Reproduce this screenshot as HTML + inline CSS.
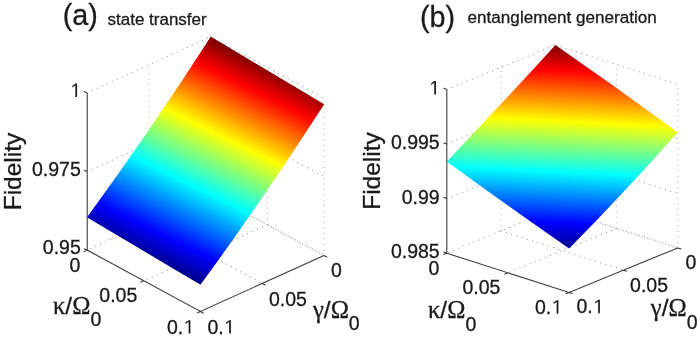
<!DOCTYPE html>
<html><head><meta charset="utf-8"><title>Fidelity plots</title>
<style>
html,body{margin:0;padding:0;background:#fff;}
body{width:697px;height:338px;overflow:hidden;}
svg{display:block;font-family:"Liberation Sans",sans-serif;fill:#1a1a1a;}
</style></head><body>
<svg width="697" height="338" viewBox="0 0 697 338">
<rect width="697" height="338" fill="#fff"/>
<linearGradient id="ga" gradientUnits="userSpaceOnUse" x1="200.40" y1="284.60" x2="300.65" y2="81.05"><stop offset="0" stop-color="rgb(0,0,143)"/><stop offset="0.125" stop-color="rgb(0,0,255)"/><stop offset="0.375" stop-color="rgb(0,255,255)"/><stop offset="0.625" stop-color="rgb(255,255,0)"/><stop offset="0.875" stop-color="rgb(255,0,0)"/><stop offset="1" stop-color="rgb(128,0,0)"/></linearGradient>
<path d="M210.80,194.00 L87.20,250.10 M267.40,224.70 L143.80,280.80 M210.80,194.00 L324.00,255.40 M149.00,222.05 L262.20,283.45 M87.20,171.50 L210.80,115.40 M210.80,115.40 L324.00,176.80 M87.20,92.90 L210.80,36.80 M210.80,36.80 L324.00,98.20" stroke="#969696" stroke-width="1.2" stroke-linecap="round" stroke-dasharray="0.01 5.49" fill="none"/>
<path d="M210.80,194.00 L210.80,36.80 M149.00,222.05 L149.00,64.85 M267.40,224.70 L267.40,67.50 M324.00,255.40 L324.00,98.20" stroke="#b4b4b4" stroke-width="1.2" stroke-linecap="round" stroke-dasharray="0.01 5.49" fill="none"/>
<path d="M210.80,194.00 L324.00,255.40" stroke="#969696" stroke-width="1.2" stroke-linecap="round" stroke-dasharray="0.01 5.49" stroke-dashoffset="2.6" fill="none"/>
<path d="M210.80,36.80 Q267.40,70.50 324.00,104.20 Q262.20,200.15 200.40,284.60 Q143.80,250.90 87.20,217.20 Q149.00,132.75 210.80,36.80Z" fill="url(#ga)"/>
<clipPath id="ca"><path d="M210.80,36.80 Q267.40,70.50 324.00,104.20 Q262.20,200.15 200.40,284.60 Q143.80,250.90 87.20,217.20 Q149.00,132.75 210.80,36.80Z"/></clipPath><g clip-path="url(#ca)"><g transform="matrix(113.20 67.40 -1.236 1.918 210.80 36.80)"><path fill="#800000" d="M0 0h.094v1.25h-.094z"/><path fill="#830000" d="M.09 0h.084v1.25h-.084z"/><path fill="#870000" d="M.17 0h.094v1.25h-.094z"/><path fill="#8b0000" d="M.26 0h.084v1.25h-.084z"/><path fill="#8f0000" d="M.34 0h.094v1.25h-.094z"/><path fill="#930000" d="M.43 0h.084v1.25h-.084z"/><path fill="#970000" d="M.51 0h.094v1.25h-.094z"/><path fill="#9b0000" d="M.6 0h.084v1.25h-.084z"/><path fill="#9f0000" d="M.68 0h.094v1.25h-.094z"/><path fill="#a30000" d="M.77 0h.084v1.25h-.084z"/><path fill="#a70000" d="M.85 0h.094v1.25h-.094z"/><path fill="#ab0000" d="M.94 0h.064v1.25h-.064z"/></g><g transform="matrix(113.20 67.40 -1.236 1.916 209.56 38.72)"><path fill="#870000" d="M0 0h.034v1.25h-.034z"/><path fill="#8b0000" d="M.03 0h.094v1.25h-.094z"/><path fill="#8f0000" d="M.12 0h.084v1.25h-.084z"/><path fill="#930000" d="M.2 0h.094v1.25h-.094z"/><path fill="#970000" d="M.29 0h.084v1.25h-.084z"/><path fill="#9b0000" d="M.37 0h.094v1.25h-.094z"/><path fill="#9f0000" d="M.46 0h.084v1.25h-.084z"/><path fill="#a30000" d="M.54 0h.094v1.25h-.094z"/><path fill="#a70000" d="M.63 0h.084v1.25h-.084z"/><path fill="#ab0000" d="M.71 0h.094v1.25h-.094z"/><path fill="#af0000" d="M.8 0h.084v1.25h-.084z"/><path fill="#b30000" d="M.88 0h.094v1.25h-.094z"/><path fill="#b70000" d="M.97 0h.034v1.25h-.034z"/></g><g transform="matrix(113.20 67.40 -1.236 1.913 208.33 40.63)"><path fill="#930000" d="M0 0h.064v1.25h-.064z"/><path fill="#970000" d="M.06 0h.094v1.25h-.094z"/><path fill="#9b0000" d="M.15 0h.084v1.25h-.084z"/><path fill="#9f0000" d="M.23 0h.094v1.25h-.094z"/><path fill="#a30000" d="M.32 0h.084v1.25h-.084z"/><path fill="#a70000" d="M.4 0h.094v1.25h-.094z"/><path fill="#ab0000" d="M.49 0h.084v1.25h-.084z"/><path fill="#af0000" d="M.57 0h.094v1.25h-.094z"/><path fill="#b30000" d="M.66 0h.084v1.25h-.084z"/><path fill="#b70000" d="M.74 0h.094v1.25h-.094z"/><path fill="#b00" d="M.83 0h.084v1.25h-.084z"/><path fill="#bf0000" d="M.91 0h.094v1.25h-.094z"/></g><g transform="matrix(113.20 67.40 -1.236 1.911 207.09 42.55)"><path fill="#9b0000" d="M0 0h.014v1.25h-.014z"/><path fill="#9f0000" d="M.01 0h.084v1.25h-.084z"/><path fill="#a30000" d="M.09 0h.094v1.25h-.094z"/><path fill="#a70000" d="M.18 0h.084v1.25h-.084z"/><path fill="#ab0000" d="M.26 0h.094v1.25h-.094z"/><path fill="#af0000" d="M.35 0h.084v1.25h-.084z"/><path fill="#b30000" d="M.43 0h.094v1.25h-.094z"/><path fill="#b70000" d="M.52 0h.084v1.25h-.084z"/><path fill="#b00" d="M.6 0h.094v1.25h-.094z"/><path fill="#bf0000" d="M.69 0h.084v1.25h-.084z"/><path fill="#c30000" d="M.77 0h.084v1.25h-.084z"/><path fill="#c70000" d="M.85 0h.094v1.25h-.094z"/><path fill="#cb0000" d="M.94 0h.064v1.25h-.064z"/></g><g transform="matrix(113.20 67.40 -1.236 1.909 205.86 44.46)"><path fill="#a70000" d="M0 0h.044v1.25h-.044z"/><path fill="#ab0000" d="M.04 0h.084v1.25h-.084z"/><path fill="#af0000" d="M.12 0h.094v1.25h-.094z"/><path fill="#b30000" d="M.21 0h.084v1.25h-.084z"/><path fill="#b70000" d="M.29 0h.094v1.25h-.094z"/><path fill="#b00" d="M.38 0h.084v1.25h-.084z"/><path fill="#bf0000" d="M.46 0h.084v1.25h-.084z"/><path fill="#c30000" d="M.54 0h.094v1.25h-.094z"/><path fill="#c70000" d="M.63 0h.084v1.25h-.084z"/><path fill="#cb0000" d="M.71 0h.094v1.25h-.094z"/><path fill="#cf0000" d="M.8 0h.084v1.25h-.084z"/><path fill="#d30000" d="M.88 0h.094v1.25h-.094z"/><path fill="#d70000" d="M.97 0h.034v1.25h-.034z"/></g><g transform="matrix(113.20 67.40 -1.236 1.906 204.62 46.37)"><path fill="#b30000" d="M0 0h.074v1.25h-.074z"/><path fill="#b70000" d="M.07 0h.084v1.25h-.084z"/><path fill="#b00" d="M.15 0h.094v1.25h-.094z"/><path fill="#bf0000" d="M.24 0h.084v1.25h-.084z"/><path fill="#c30000" d="M.32 0h.094v1.25h-.094z"/><path fill="#c70000" d="M.41 0h.084v1.25h-.084z"/><path fill="#cb0000" d="M.49 0h.084v1.25h-.084z"/><path fill="#cf0000" d="M.57 0h.094v1.25h-.094z"/><path fill="#d30000" d="M.66 0h.084v1.25h-.084z"/><path fill="#d70000" d="M.74 0h.094v1.25h-.094z"/><path fill="#db0000" d="M.83 0h.084v1.25h-.084z"/><path fill="#df0000" d="M.91 0h.094v1.25h-.094z"/></g><g transform="matrix(113.20 67.40 -1.236 1.904 203.38 48.27)"><path fill="#b00" d="M0 0h.014v1.25h-.014z"/><path fill="#bf0000" d="M.01 0h.094v1.25h-.094z"/><path fill="#c30000" d="M.1 0h.084v1.25h-.084z"/><path fill="#c70000" d="M.18 0h.094v1.25h-.094z"/><path fill="#cb0000" d="M.27 0h.084v1.25h-.084z"/><path fill="#cf0000" d="M.35 0h.094v1.25h-.094z"/><path fill="#d30000" d="M.44 0h.084v1.25h-.084z"/><path fill="#d70000" d="M.52 0h.094v1.25h-.094z"/><path fill="#db0000" d="M.61 0h.084v1.25h-.084z"/><path fill="#df0000" d="M.69 0h.084v1.25h-.084z"/><path fill="#e30000" d="M.77 0h.094v1.25h-.094z"/><path fill="#e70000" d="M.86 0h.084v1.25h-.084z"/><path fill="#eb0000" d="M.94 0h.064v1.25h-.064z"/></g><g transform="matrix(113.20 67.40 -1.236 1.902 202.15 50.18)"><path fill="#c70000" d="M0 0h.044v1.25h-.044z"/><path fill="#cb0000" d="M.04 0h.094v1.25h-.094z"/><path fill="#cf0000" d="M.13 0h.084v1.25h-.084z"/><path fill="#d30000" d="M.21 0h.094v1.25h-.094z"/><path fill="#d70000" d="M.3 0h.084v1.25h-.084z"/><path fill="#db0000" d="M.38 0h.094v1.25h-.094z"/><path fill="#df0000" d="M.47 0h.084v1.25h-.084z"/><path fill="#e30000" d="M.55 0h.094v1.25h-.094z"/><path fill="#e70000" d="M.64 0h.084v1.25h-.084z"/><path fill="#eb0000" d="M.72 0h.094v1.25h-.094z"/><path fill="#ef0000" d="M.81 0h.084v1.25h-.084z"/><path fill="#f30000" d="M.89 0h.084v1.25h-.084z"/><path fill="#f70000" d="M.97 0h.034v1.25h-.034z"/></g><g transform="matrix(113.20 67.40 -1.236 1.899 200.91 52.08)"><path fill="#d30000" d="M0 0h.074v1.25h-.074z"/><path fill="#d70000" d="M.07 0h.094v1.25h-.094z"/><path fill="#db0000" d="M.16 0h.084v1.25h-.084z"/><path fill="#df0000" d="M.24 0h.094v1.25h-.094z"/><path fill="#e30000" d="M.33 0h.084v1.25h-.084z"/><path fill="#e70000" d="M.41 0h.094v1.25h-.094z"/><path fill="#eb0000" d="M.5 0h.084v1.25h-.084z"/><path fill="#ef0000" d="M.58 0h.094v1.25h-.094z"/><path fill="#f30000" d="M.67 0h.084v1.25h-.084z"/><path fill="#f70000" d="M.75 0h.094v1.25h-.094z"/><path fill="#fb0000" d="M.84 0h.084v1.25h-.084z"/><path fill="#f00" d="M.92 0h.084v1.25h-.084z"/></g><g transform="matrix(113.20 67.40 -1.236 1.897 199.68 53.98)"><path fill="#db0000" d="M0 0h.024v1.25h-.024z"/><path fill="#df0000" d="M.02 0h.084v1.25h-.084z"/><path fill="#e30000" d="M.1 0h.094v1.25h-.094z"/><path fill="#e70000" d="M.19 0h.084v1.25h-.084z"/><path fill="#eb0000" d="M.27 0h.094v1.25h-.094z"/><path fill="#ef0000" d="M.36 0h.084v1.25h-.084z"/><path fill="#f30000" d="M.44 0h.094v1.25h-.094z"/><path fill="#f70000" d="M.53 0h.084v1.25h-.084z"/><path fill="#fb0000" d="M.61 0h.094v1.25h-.094z"/><path fill="#f00" d="M.7 0h.084v1.25h-.084z"/><path fill="#ff0400" d="M.78 0h.094v1.25h-.094z"/><path fill="#ff0800" d="M.87 0h.084v1.25h-.084z"/><path fill="#ff0c00" d="M.95 0h.054v1.25h-.054z"/></g><g transform="matrix(113.20 67.40 -1.236 1.895 198.44 55.88)"><path fill="#e70000" d="M0 0h.054v1.25h-.054z"/><path fill="#eb0000" d="M.05 0h.094v1.25h-.094z"/><path fill="#ef0000" d="M.14 0h.084v1.25h-.084z"/><path fill="#f30000" d="M.22 0h.094v1.25h-.094z"/><path fill="#f70000" d="M.31 0h.084v1.25h-.084z"/><path fill="#fb0000" d="M.39 0h.094v1.25h-.094z"/><path fill="#f00" d="M.48 0h.084v1.25h-.084z"/><path fill="#ff0400" d="M.56 0h.094v1.25h-.094z"/><path fill="#ff0800" d="M.65 0h.084v1.25h-.084z"/><path fill="#ff0c00" d="M.73 0h.084v1.25h-.084z"/><path fill="#ff1000" d="M.81 0h.094v1.25h-.094z"/><path fill="#ff1400" d="M.9 0h.084v1.25h-.084z"/><path fill="#ff1800" d="M.98 0h.024v1.25h-.024z"/></g><g transform="matrix(113.20 67.40 -1.236 1.893 197.20 57.77)"><path fill="#f30000" d="M0 0h.084v1.25h-.084z"/><path fill="#f70000" d="M.08 0h.094v1.25h-.094z"/><path fill="#fb0000" d="M.17 0h.084v1.25h-.084z"/><path fill="#f00" d="M.25 0h.094v1.25h-.094z"/><path fill="#ff0400" d="M.34 0h.084v1.25h-.084z"/><path fill="#ff0800" d="M.42 0h.094v1.25h-.094z"/><path fill="#ff0c00" d="M.51 0h.084v1.25h-.084z"/><path fill="#ff1000" d="M.59 0h.094v1.25h-.094z"/><path fill="#ff1400" d="M.68 0h.084v1.25h-.084z"/><path fill="#ff1800" d="M.76 0h.094v1.25h-.094z"/><path fill="#ff1c00" d="M.85 0h.084v1.25h-.084z"/><path fill="#ff2000" d="M.93 0h.074v1.25h-.074z"/></g><g transform="matrix(113.20 67.40 -1.236 1.890 195.97 59.66)"><path fill="#fb0000" d="M0 0h.034v1.25h-.034z"/><path fill="#f00" d="M.03 0h.094v1.25h-.094z"/><path fill="#ff0400" d="M.12 0h.084v1.25h-.084z"/><path fill="#ff0800" d="M.2 0h.094v1.25h-.094z"/><path fill="#ff0c00" d="M.29 0h.084v1.25h-.084z"/><path fill="#ff1000" d="M.37 0h.094v1.25h-.094z"/><path fill="#ff1400" d="M.46 0h.084v1.25h-.084z"/><path fill="#ff1800" d="M.54 0h.084v1.25h-.084z"/><path fill="#ff1c00" d="M.62 0h.094v1.25h-.094z"/><path fill="#ff2000" d="M.71 0h.084v1.25h-.084z"/><path fill="#ff2400" d="M.79 0h.094v1.25h-.094z"/><path fill="#ff2800" d="M.88 0h.084v1.25h-.084z"/><path fill="#ff2c00" d="M.96 0h.044v1.25h-.044z"/></g><g transform="matrix(113.20 67.40 -1.236 1.888 194.73 61.55)"><path fill="#ff0800" d="M0 0h.064v1.25h-.064z"/><path fill="#ff0c00" d="M.06 0h.094v1.25h-.094z"/><path fill="#ff1000" d="M.15 0h.084v1.25h-.084z"/><path fill="#ff1400" d="M.23 0h.094v1.25h-.094z"/><path fill="#ff1800" d="M.32 0h.084v1.25h-.084z"/><path fill="#ff1c00" d="M.4 0h.094v1.25h-.094z"/><path fill="#ff2000" d="M.49 0h.084v1.25h-.084z"/><path fill="#ff2400" d="M.57 0h.094v1.25h-.094z"/><path fill="#ff2800" d="M.66 0h.084v1.25h-.084z"/><path fill="#ff2c00" d="M.74 0h.094v1.25h-.094z"/><path fill="#ff3000" d="M.83 0h.084v1.25h-.084z"/><path fill="#ff3400" d="M.91 0h.094v1.25h-.094z"/></g><g transform="matrix(113.20 67.40 -1.236 1.886 193.50 63.44)"><path fill="#ff1000" d="M0 0h.014v1.25h-.014z"/><path fill="#ff1400" d="M.01 0h.094v1.25h-.094z"/><path fill="#ff1800" d="M.1 0h.084v1.25h-.084z"/><path fill="#ff1c00" d="M.18 0h.094v1.25h-.094z"/><path fill="#ff2000" d="M.27 0h.084v1.25h-.084z"/><path fill="#ff2400" d="M.35 0h.094v1.25h-.094z"/><path fill="#ff2800" d="M.44 0h.084v1.25h-.084z"/><path fill="#ff2c00" d="M.52 0h.094v1.25h-.094z"/><path fill="#ff3000" d="M.61 0h.084v1.25h-.084z"/><path fill="#ff3400" d="M.69 0h.094v1.25h-.094z"/><path fill="#ff3800" d="M.78 0h.084v1.25h-.084z"/><path fill="#ff3c00" d="M.86 0h.094v1.25h-.094z"/><path fill="#ff4000" d="M.95 0h.054v1.25h-.054z"/></g><g transform="matrix(113.20 67.40 -1.236 1.883 192.26 65.33)"><path fill="#ff1c00" d="M0 0h.054v1.25h-.054z"/><path fill="#ff2000" d="M.05 0h.084v1.25h-.084z"/><path fill="#ff2400" d="M.13 0h.094v1.25h-.094z"/><path fill="#ff2800" d="M.22 0h.084v1.25h-.084z"/><path fill="#ff2c00" d="M.3 0h.094v1.25h-.094z"/><path fill="#ff3000" d="M.39 0h.084v1.25h-.084z"/><path fill="#ff3400" d="M.47 0h.094v1.25h-.094z"/><path fill="#ff3800" d="M.56 0h.084v1.25h-.084z"/><path fill="#ff3c00" d="M.64 0h.094v1.25h-.094z"/><path fill="#ff4000" d="M.73 0h.084v1.25h-.084z"/><path fill="#f40" d="M.81 0h.084v1.25h-.084z"/><path fill="#ff4800" d="M.89 0h.094v1.25h-.094z"/><path fill="#ff4c00" d="M.98 0h.024v1.25h-.024z"/></g><g transform="matrix(113.20 67.40 -1.236 1.881 191.02 67.21)"><path fill="#ff2800" d="M0 0h.084v1.25h-.084z"/><path fill="#ff2c00" d="M.08 0h.094v1.25h-.094z"/><path fill="#ff3000" d="M.17 0h.084v1.25h-.084z"/><path fill="#ff3400" d="M.25 0h.084v1.25h-.084z"/><path fill="#ff3800" d="M.33 0h.094v1.25h-.094z"/><path fill="#ff3c00" d="M.42 0h.084v1.25h-.084z"/><path fill="#ff4000" d="M.5 0h.094v1.25h-.094z"/><path fill="#f40" d="M.59 0h.084v1.25h-.084z"/><path fill="#ff4800" d="M.67 0h.094v1.25h-.094z"/><path fill="#ff4c00" d="M.76 0h.084v1.25h-.084z"/><path fill="#ff5000" d="M.84 0h.094v1.25h-.094z"/><path fill="#ff5400" d="M.93 0h.074v1.25h-.074z"/></g><g transform="matrix(113.20 67.40 -1.236 1.879 189.79 69.09)"><path fill="#ff3000" d="M0 0h.034v1.25h-.034z"/><path fill="#ff3400" d="M.03 0h.084v1.25h-.084z"/><path fill="#ff3800" d="M.11 0h.094v1.25h-.094z"/><path fill="#ff3c00" d="M.2 0h.084v1.25h-.084z"/><path fill="#ff4000" d="M.28 0h.094v1.25h-.094z"/><path fill="#f40" d="M.37 0h.084v1.25h-.084z"/><path fill="#ff4800" d="M.45 0h.094v1.25h-.094z"/><path fill="#ff4c00" d="M.54 0h.084v1.25h-.084z"/><path fill="#ff5000" d="M.62 0h.094v1.25h-.094z"/><path fill="#ff5400" d="M.71 0h.084v1.25h-.084z"/><path fill="#ff5800" d="M.79 0h.094v1.25h-.094z"/><path fill="#ff5c00" d="M.88 0h.084v1.25h-.084z"/><path fill="#ff6000" d="M.96 0h.044v1.25h-.044z"/></g><g transform="matrix(113.20 67.40 -1.236 1.876 188.55 70.97)"><path fill="#ff3c00" d="M0 0h.064v1.25h-.064z"/><path fill="#ff4000" d="M.06 0h.094v1.25h-.094z"/><path fill="#f40" d="M.15 0h.084v1.25h-.084z"/><path fill="#ff4800" d="M.23 0h.094v1.25h-.094z"/><path fill="#ff4c00" d="M.32 0h.084v1.25h-.084z"/><path fill="#ff5000" d="M.4 0h.094v1.25h-.094z"/><path fill="#ff5400" d="M.49 0h.084v1.25h-.084z"/><path fill="#ff5800" d="M.57 0h.094v1.25h-.094z"/><path fill="#ff5c00" d="M.66 0h.084v1.25h-.084z"/><path fill="#ff6000" d="M.74 0h.094v1.25h-.094z"/><path fill="#ff6400" d="M.83 0h.084v1.25h-.084z"/><path fill="#ff6800" d="M.91 0h.094v1.25h-.094z"/></g><g transform="matrix(113.20 67.40 -1.236 1.874 187.32 72.85)"><path fill="#f40" d="M0 0h.024v1.25h-.024z"/><path fill="#ff4800" d="M.02 0h.084v1.25h-.084z"/><path fill="#ff4c00" d="M.1 0h.094v1.25h-.094z"/><path fill="#ff5000" d="M.19 0h.084v1.25h-.084z"/><path fill="#ff5400" d="M.27 0h.084v1.25h-.084z"/><path fill="#ff5800" d="M.35 0h.094v1.25h-.094z"/><path fill="#ff5c00" d="M.44 0h.084v1.25h-.084z"/><path fill="#ff6000" d="M.52 0h.094v1.25h-.094z"/><path fill="#ff6400" d="M.61 0h.084v1.25h-.084z"/><path fill="#ff6800" d="M.69 0h.094v1.25h-.094z"/><path fill="#ff6c00" d="M.78 0h.084v1.25h-.084z"/><path fill="#ff7000" d="M.86 0h.094v1.25h-.094z"/><path fill="#ff7400" d="M.95 0h.054v1.25h-.054z"/></g><g transform="matrix(113.20 67.40 -1.236 1.872 186.08 74.72)"><path fill="#ff5000" d="M0 0h.054v1.25h-.054z"/><path fill="#ff5400" d="M.05 0h.094v1.25h-.094z"/><path fill="#ff5800" d="M.14 0h.084v1.25h-.084z"/><path fill="#ff5c00" d="M.22 0h.094v1.25h-.094z"/><path fill="#ff6000" d="M.31 0h.084v1.25h-.084z"/><path fill="#ff6400" d="M.39 0h.094v1.25h-.094z"/><path fill="#ff6800" d="M.48 0h.084v1.25h-.084z"/><path fill="#ff6c00" d="M.56 0h.084v1.25h-.084z"/><path fill="#ff7000" d="M.64 0h.094v1.25h-.094z"/><path fill="#ff7400" d="M.73 0h.084v1.25h-.084z"/><path fill="#ff7800" d="M.81 0h.094v1.25h-.094z"/><path fill="#ff7c00" d="M.9 0h.084v1.25h-.084z"/><path fill="#ff8000" d="M.98 0h.024v1.25h-.024z"/></g><g transform="matrix(113.20 67.40 -1.236 1.870 184.84 76.59)"><path fill="#ff5c00" d="M0 0h.094v1.25h-.094z"/><path fill="#ff6000" d="M.09 0h.084v1.25h-.084z"/><path fill="#ff6400" d="M.17 0h.094v1.25h-.094z"/><path fill="#ff6800" d="M.26 0h.084v1.25h-.084z"/><path fill="#ff6c00" d="M.34 0h.094v1.25h-.094z"/><path fill="#ff7000" d="M.43 0h.084v1.25h-.084z"/><path fill="#ff7400" d="M.51 0h.094v1.25h-.094z"/><path fill="#ff7800" d="M.6 0h.084v1.25h-.084z"/><path fill="#ff7c00" d="M.68 0h.094v1.25h-.094z"/><path fill="#ff8000" d="M.77 0h.084v1.25h-.084z"/><path fill="#ff8300" d="M.85 0h.094v1.25h-.094z"/><path fill="#ff8700" d="M.94 0h.064v1.25h-.064z"/></g><g transform="matrix(113.20 67.40 -1.236 1.867 183.61 78.46)"><path fill="#ff6400" d="M0 0h.044v1.25h-.044z"/><path fill="#ff6800" d="M.04 0h.084v1.25h-.084z"/><path fill="#ff6c00" d="M.12 0h.094v1.25h-.094z"/><path fill="#ff7000" d="M.21 0h.084v1.25h-.084z"/><path fill="#ff7400" d="M.29 0h.094v1.25h-.094z"/><path fill="#ff7800" d="M.38 0h.084v1.25h-.084z"/><path fill="#ff7c00" d="M.46 0h.094v1.25h-.094z"/><path fill="#ff8000" d="M.55 0h.084v1.25h-.084z"/><path fill="#ff8300" d="M.63 0h.094v1.25h-.094z"/><path fill="#ff8700" d="M.72 0h.084v1.25h-.084z"/><path fill="#ff8b00" d="M.8 0h.094v1.25h-.094z"/><path fill="#ff8f00" d="M.89 0h.084v1.25h-.084z"/><path fill="#ff9300" d="M.97 0h.034v1.25h-.034z"/></g><g transform="matrix(113.20 67.40 -1.236 1.865 182.37 80.33)"><path fill="#ff7000" d="M0 0h.084v1.25h-.084z"/><path fill="#ff7400" d="M.08 0h.084v1.25h-.084z"/><path fill="#ff7800" d="M.16 0h.094v1.25h-.094z"/><path fill="#ff7c00" d="M.25 0h.084v1.25h-.084z"/><path fill="#ff8000" d="M.33 0h.084v1.25h-.084z"/><path fill="#ff8300" d="M.41 0h.094v1.25h-.094z"/><path fill="#ff8700" d="M.5 0h.084v1.25h-.084z"/><path fill="#ff8b00" d="M.58 0h.094v1.25h-.094z"/><path fill="#ff8f00" d="M.67 0h.084v1.25h-.084z"/><path fill="#ff9300" d="M.75 0h.094v1.25h-.094z"/><path fill="#ff9700" d="M.84 0h.084v1.25h-.084z"/><path fill="#ff9b00" d="M.92 0h.084v1.25h-.084z"/></g><g transform="matrix(113.20 67.40 -1.236 1.863 181.14 82.19)"><path fill="#ff7800" d="M0 0h.034v1.25h-.034z"/><path fill="#ff7c00" d="M.03 0h.084v1.25h-.084z"/><path fill="#ff8000" d="M.11 0h.094v1.25h-.094z"/><path fill="#ff8300" d="M.2 0h.084v1.25h-.084z"/><path fill="#ff8700" d="M.28 0h.094v1.25h-.094z"/><path fill="#ff8b00" d="M.37 0h.084v1.25h-.084z"/><path fill="#ff8f00" d="M.45 0h.094v1.25h-.094z"/><path fill="#ff9300" d="M.54 0h.084v1.25h-.084z"/><path fill="#ff9700" d="M.62 0h.094v1.25h-.094z"/><path fill="#ff9b00" d="M.71 0h.084v1.25h-.084z"/><path fill="#ff9f00" d="M.79 0h.094v1.25h-.094z"/><path fill="#ffa300" d="M.88 0h.084v1.25h-.084z"/><path fill="#ffa700" d="M.96 0h.044v1.25h-.044z"/></g><g transform="matrix(113.20 67.40 -1.236 1.860 179.90 84.06)"><path fill="#ff8300" d="M0 0h.074v1.25h-.074z"/><path fill="#ff8700" d="M.07 0h.084v1.25h-.084z"/><path fill="#ff8b00" d="M.15 0h.084v1.25h-.084z"/><path fill="#ff8f00" d="M.23 0h.094v1.25h-.094z"/><path fill="#ff9300" d="M.32 0h.084v1.25h-.084z"/><path fill="#ff9700" d="M.4 0h.094v1.25h-.094z"/><path fill="#ff9b00" d="M.49 0h.084v1.25h-.084z"/><path fill="#ff9f00" d="M.57 0h.094v1.25h-.094z"/><path fill="#ffa300" d="M.66 0h.084v1.25h-.084z"/><path fill="#ffa700" d="M.74 0h.094v1.25h-.094z"/><path fill="#ffab00" d="M.83 0h.084v1.25h-.084z"/><path fill="#ffaf00" d="M.91 0h.094v1.25h-.094z"/></g><g transform="matrix(113.20 67.40 -1.236 1.858 178.66 85.92)"><path fill="#ff8b00" d="M0 0h.024v1.25h-.024z"/><path fill="#ff8f00" d="M.02 0h.084v1.25h-.084z"/><path fill="#ff9300" d="M.1 0h.094v1.25h-.094z"/><path fill="#ff9700" d="M.19 0h.084v1.25h-.084z"/><path fill="#ff9b00" d="M.27 0h.094v1.25h-.094z"/><path fill="#ff9f00" d="M.36 0h.084v1.25h-.084z"/><path fill="#ffa300" d="M.44 0h.094v1.25h-.094z"/><path fill="#ffa700" d="M.53 0h.084v1.25h-.084z"/><path fill="#ffab00" d="M.61 0h.094v1.25h-.094z"/><path fill="#ffaf00" d="M.7 0h.084v1.25h-.084z"/><path fill="#ffb300" d="M.78 0h.094v1.25h-.094z"/><path fill="#ffb700" d="M.87 0h.084v1.25h-.084z"/><path fill="#fb0" d="M.95 0h.054v1.25h-.054z"/></g><g transform="matrix(113.20 67.40 -1.236 1.856 177.43 87.77)"><path fill="#ff9700" d="M0 0h.064v1.25h-.064z"/><path fill="#ff9b00" d="M.06 0h.084v1.25h-.084z"/><path fill="#ff9f00" d="M.14 0h.094v1.25h-.094z"/><path fill="#ffa300" d="M.23 0h.084v1.25h-.084z"/><path fill="#ffa700" d="M.31 0h.094v1.25h-.094z"/><path fill="#ffab00" d="M.4 0h.084v1.25h-.084z"/><path fill="#ffaf00" d="M.48 0h.094v1.25h-.094z"/><path fill="#ffb300" d="M.57 0h.084v1.25h-.084z"/><path fill="#ffb700" d="M.65 0h.094v1.25h-.094z"/><path fill="#fb0" d="M.74 0h.084v1.25h-.084z"/><path fill="#ffbf00" d="M.82 0h.094v1.25h-.094z"/><path fill="#ffc300" d="M.91 0h.084v1.25h-.084z"/><path fill="#ffc700" d="M.99 0h.014v1.25h-.014z"/></g><g transform="matrix(113.20 67.40 -1.236 1.853 176.19 89.63)"><path fill="#ff9f00" d="M0 0h.014v1.25h-.014z"/><path fill="#ffa300" d="M.01 0h.094v1.25h-.094z"/><path fill="#ffa700" d="M.1 0h.084v1.25h-.084z"/><path fill="#ffab00" d="M.18 0h.094v1.25h-.094z"/><path fill="#ffaf00" d="M.27 0h.084v1.25h-.084z"/><path fill="#ffb300" d="M.35 0h.084v1.25h-.084z"/><path fill="#ffb700" d="M.43 0h.094v1.25h-.094z"/><path fill="#fb0" d="M.52 0h.084v1.25h-.084z"/><path fill="#ffbf00" d="M.6 0h.094v1.25h-.094z"/><path fill="#ffc300" d="M.69 0h.084v1.25h-.084z"/><path fill="#ffc700" d="M.77 0h.094v1.25h-.094z"/><path fill="#ffcb00" d="M.86 0h.084v1.25h-.084z"/><path fill="#ffcf00" d="M.94 0h.064v1.25h-.064z"/></g><g transform="matrix(113.20 67.40 -1.236 1.851 174.96 91.48)"><path fill="#ffab00" d="M0 0h.054v1.25h-.054z"/><path fill="#ffaf00" d="M.05 0h.084v1.25h-.084z"/><path fill="#ffb300" d="M.13 0h.094v1.25h-.094z"/><path fill="#ffb700" d="M.22 0h.084v1.25h-.084z"/><path fill="#fb0" d="M.3 0h.094v1.25h-.094z"/><path fill="#ffbf00" d="M.39 0h.084v1.25h-.084z"/><path fill="#ffc300" d="M.47 0h.094v1.25h-.094z"/><path fill="#ffc700" d="M.56 0h.084v1.25h-.084z"/><path fill="#ffcb00" d="M.64 0h.094v1.25h-.094z"/><path fill="#ffcf00" d="M.73 0h.084v1.25h-.084z"/><path fill="#ffd300" d="M.81 0h.094v1.25h-.094z"/><path fill="#ffd700" d="M.9 0h.084v1.25h-.084z"/><path fill="#ffdb00" d="M.98 0h.024v1.25h-.024z"/></g><g transform="matrix(113.20 67.40 -1.236 1.849 173.72 93.33)"><path fill="#ffb700" d="M0 0h.094v1.25h-.094z"/><path fill="#fb0" d="M.09 0h.084v1.25h-.084z"/><path fill="#ffbf00" d="M.17 0h.094v1.25h-.094z"/><path fill="#ffc300" d="M.26 0h.084v1.25h-.084z"/><path fill="#ffc700" d="M.34 0h.094v1.25h-.094z"/><path fill="#ffcb00" d="M.43 0h.084v1.25h-.084z"/><path fill="#ffcf00" d="M.51 0h.094v1.25h-.094z"/><path fill="#ffd300" d="M.6 0h.084v1.25h-.084z"/><path fill="#ffd700" d="M.68 0h.094v1.25h-.094z"/><path fill="#ffdb00" d="M.77 0h.084v1.25h-.084z"/><path fill="#ffdf00" d="M.85 0h.094v1.25h-.094z"/><path fill="#ffe300" d="M.94 0h.064v1.25h-.064z"/></g><g transform="matrix(113.20 67.40 -1.236 1.847 172.48 95.18)"><path fill="#ffbf00" d="M0 0h.044v1.25h-.044z"/><path fill="#ffc300" d="M.04 0h.094v1.25h-.094z"/><path fill="#ffc700" d="M.13 0h.084v1.25h-.084z"/><path fill="#ffcb00" d="M.21 0h.094v1.25h-.094z"/><path fill="#ffcf00" d="M.3 0h.084v1.25h-.084z"/><path fill="#ffd300" d="M.38 0h.094v1.25h-.094z"/><path fill="#ffd700" d="M.47 0h.084v1.25h-.084z"/><path fill="#ffdb00" d="M.55 0h.094v1.25h-.094z"/><path fill="#ffdf00" d="M.64 0h.084v1.25h-.084z"/><path fill="#ffe300" d="M.72 0h.094v1.25h-.094z"/><path fill="#ffe700" d="M.81 0h.084v1.25h-.084z"/><path fill="#ffeb00" d="M.89 0h.094v1.25h-.094z"/><path fill="#ffef00" d="M.98 0h.024v1.25h-.024z"/></g><g transform="matrix(113.20 67.40 -1.236 1.844 171.25 97.03)"><path fill="#ffcb00" d="M0 0h.084v1.25h-.084z"/><path fill="#ffcf00" d="M.08 0h.094v1.25h-.094z"/><path fill="#ffd300" d="M.17 0h.084v1.25h-.084z"/><path fill="#ffd700" d="M.25 0h.094v1.25h-.094z"/><path fill="#ffdb00" d="M.34 0h.084v1.25h-.084z"/><path fill="#ffdf00" d="M.42 0h.094v1.25h-.094z"/><path fill="#ffe300" d="M.51 0h.084v1.25h-.084z"/><path fill="#ffe700" d="M.59 0h.094v1.25h-.094z"/><path fill="#ffeb00" d="M.68 0h.084v1.25h-.084z"/><path fill="#ffef00" d="M.76 0h.094v1.25h-.094z"/><path fill="#fff300" d="M.85 0h.084v1.25h-.084z"/><path fill="#fff700" d="M.93 0h.074v1.25h-.074z"/></g><g transform="matrix(113.20 67.40 -1.236 1.842 170.01 98.87)"><path fill="#ffd300" d="M0 0h.044v1.25h-.044z"/><path fill="#ffd700" d="M.04 0h.084v1.25h-.084z"/><path fill="#ffdb00" d="M.12 0h.094v1.25h-.094z"/><path fill="#ffdf00" d="M.21 0h.084v1.25h-.084z"/><path fill="#ffe300" d="M.29 0h.094v1.25h-.094z"/><path fill="#ffe700" d="M.38 0h.084v1.25h-.084z"/><path fill="#ffeb00" d="M.46 0h.094v1.25h-.094z"/><path fill="#ffef00" d="M.55 0h.084v1.25h-.084z"/><path fill="#fff300" d="M.63 0h.094v1.25h-.094z"/><path fill="#fff700" d="M.72 0h.084v1.25h-.084z"/><path fill="#fffb00" d="M.8 0h.094v1.25h-.094z"/><path fill="#ff0" d="M.89 0h.084v1.25h-.084z"/><path fill="#fbff04" d="M.97 0h.034v1.25h-.034z"/></g><g transform="matrix(113.20 67.40 -1.236 1.840 168.78 100.72)"><path fill="#ffdf00" d="M0 0h.084v1.25h-.084z"/><path fill="#ffe300" d="M.08 0h.094v1.25h-.094z"/><path fill="#ffe700" d="M.17 0h.084v1.25h-.084z"/><path fill="#ffeb00" d="M.25 0h.094v1.25h-.094z"/><path fill="#ffef00" d="M.34 0h.084v1.25h-.084z"/><path fill="#fff300" d="M.42 0h.094v1.25h-.094z"/><path fill="#fff700" d="M.51 0h.084v1.25h-.084z"/><path fill="#fffb00" d="M.59 0h.084v1.25h-.084z"/><path fill="#ff0" d="M.67 0h.094v1.25h-.094z"/><path fill="#fbff04" d="M.76 0h.084v1.25h-.084z"/><path fill="#f7ff08" d="M.84 0h.094v1.25h-.094z"/><path fill="#f3ff0c" d="M.93 0h.074v1.25h-.074z"/></g><g transform="matrix(113.20 67.40 -1.236 1.837 167.54 102.56)"><path fill="#ffe700" d="M0 0h.044v1.25h-.044z"/><path fill="#ffeb00" d="M.04 0h.084v1.25h-.084z"/><path fill="#ffef00" d="M.12 0h.094v1.25h-.094z"/><path fill="#fff300" d="M.21 0h.084v1.25h-.084z"/><path fill="#fff700" d="M.29 0h.094v1.25h-.094z"/><path fill="#fffb00" d="M.38 0h.084v1.25h-.084z"/><path fill="#ff0" d="M.46 0h.094v1.25h-.094z"/><path fill="#fbff04" d="M.55 0h.084v1.25h-.084z"/><path fill="#f7ff08" d="M.63 0h.094v1.25h-.094z"/><path fill="#f3ff0c" d="M.72 0h.084v1.25h-.084z"/><path fill="#efff10" d="M.8 0h.094v1.25h-.094z"/><path fill="#ebff14" d="M.89 0h.084v1.25h-.084z"/><path fill="#e7ff18" d="M.97 0h.034v1.25h-.034z"/></g><g transform="matrix(113.20 67.40 -1.236 1.835 166.30 104.39)"><path fill="#fff300" d="M0 0h.084v1.25h-.084z"/><path fill="#fff700" d="M.08 0h.084v1.25h-.084z"/><path fill="#fffb00" d="M.16 0h.094v1.25h-.094z"/><path fill="#ff0" d="M.25 0h.084v1.25h-.084z"/><path fill="#fbff04" d="M.33 0h.094v1.25h-.094z"/><path fill="#f7ff08" d="M.42 0h.084v1.25h-.084z"/><path fill="#f3ff0c" d="M.5 0h.094v1.25h-.094z"/><path fill="#efff10" d="M.59 0h.084v1.25h-.084z"/><path fill="#ebff14" d="M.67 0h.094v1.25h-.094z"/><path fill="#e7ff18" d="M.76 0h.084v1.25h-.084z"/><path fill="#e3ff1c" d="M.84 0h.094v1.25h-.094z"/><path fill="#dfff20" d="M.93 0h.074v1.25h-.074z"/></g><g transform="matrix(113.20 67.40 -1.236 1.833 165.07 106.23)"><path fill="#fffb00" d="M0 0h.044v1.25h-.044z"/><path fill="#ff0" d="M.04 0h.084v1.25h-.084z"/><path fill="#fbff04" d="M.12 0h.094v1.25h-.094z"/><path fill="#f7ff08" d="M.21 0h.084v1.25h-.084z"/><path fill="#f3ff0c" d="M.29 0h.094v1.25h-.094z"/><path fill="#efff10" d="M.38 0h.084v1.25h-.084z"/><path fill="#ebff14" d="M.46 0h.094v1.25h-.094z"/><path fill="#e7ff18" d="M.55 0h.084v1.25h-.084z"/><path fill="#e3ff1c" d="M.63 0h.094v1.25h-.094z"/><path fill="#dfff20" d="M.72 0h.084v1.25h-.084z"/><path fill="#dbff24" d="M.8 0h.094v1.25h-.094z"/><path fill="#d7ff28" d="M.89 0h.084v1.25h-.084z"/><path fill="#d3ff2c" d="M.97 0h.034v1.25h-.034z"/></g><g transform="matrix(113.20 67.40 -1.236 1.830 163.83 108.06)"><path fill="#f7ff08" d="M0 0h.084v1.25h-.084z"/><path fill="#f3ff0c" d="M.08 0h.084v1.25h-.084z"/><path fill="#efff10" d="M.16 0h.094v1.25h-.094z"/><path fill="#ebff14" d="M.25 0h.084v1.25h-.084z"/><path fill="#e7ff18" d="M.33 0h.094v1.25h-.094z"/><path fill="#e3ff1c" d="M.42 0h.084v1.25h-.084z"/><path fill="#dfff20" d="M.5 0h.094v1.25h-.094z"/><path fill="#dbff24" d="M.59 0h.084v1.25h-.084z"/><path fill="#d7ff28" d="M.67 0h.094v1.25h-.094z"/><path fill="#d3ff2c" d="M.76 0h.084v1.25h-.084z"/><path fill="#cfff30" d="M.84 0h.094v1.25h-.094z"/><path fill="#cbff34" d="M.93 0h.074v1.25h-.074z"/></g><g transform="matrix(113.20 67.40 -1.236 1.828 162.60 109.89)"><path fill="#efff10" d="M0 0h.044v1.25h-.044z"/><path fill="#ebff14" d="M.04 0h.084v1.25h-.084z"/><path fill="#e7ff18" d="M.12 0h.094v1.25h-.094z"/><path fill="#e3ff1c" d="M.21 0h.084v1.25h-.084z"/><path fill="#dfff20" d="M.29 0h.094v1.25h-.094z"/><path fill="#dbff24" d="M.38 0h.084v1.25h-.084z"/><path fill="#d7ff28" d="M.46 0h.094v1.25h-.094z"/><path fill="#d3ff2c" d="M.55 0h.084v1.25h-.084z"/><path fill="#cfff30" d="M.63 0h.094v1.25h-.094z"/><path fill="#cbff34" d="M.72 0h.084v1.25h-.084z"/><path fill="#c7ff38" d="M.8 0h.094v1.25h-.094z"/><path fill="#c3ff3c" d="M.89 0h.084v1.25h-.084z"/><path fill="#bfff40" d="M.97 0h.034v1.25h-.034z"/></g><g transform="matrix(113.20 67.40 -1.236 1.826 161.36 111.72)"><path fill="#e3ff1c" d="M0 0h.084v1.25h-.084z"/><path fill="#dfff20" d="M.08 0h.094v1.25h-.094z"/><path fill="#dbff24" d="M.17 0h.084v1.25h-.084z"/><path fill="#d7ff28" d="M.25 0h.094v1.25h-.094z"/><path fill="#d3ff2c" d="M.34 0h.084v1.25h-.084z"/><path fill="#cfff30" d="M.42 0h.084v1.25h-.084z"/><path fill="#cbff34" d="M.5 0h.094v1.25h-.094z"/><path fill="#c7ff38" d="M.59 0h.084v1.25h-.084z"/><path fill="#c3ff3c" d="M.67 0h.094v1.25h-.094z"/><path fill="#bfff40" d="M.76 0h.084v1.25h-.084z"/><path fill="#bf4" d="M.84 0h.094v1.25h-.094z"/><path fill="#b7ff48" d="M.93 0h.074v1.25h-.074z"/></g><g transform="matrix(113.20 67.40 -1.236 1.824 160.12 113.55)"><path fill="#dbff24" d="M0 0h.044v1.25h-.044z"/><path fill="#d7ff28" d="M.04 0h.084v1.25h-.084z"/><path fill="#d3ff2c" d="M.12 0h.094v1.25h-.094z"/><path fill="#cfff30" d="M.21 0h.084v1.25h-.084z"/><path fill="#cbff34" d="M.29 0h.094v1.25h-.094z"/><path fill="#c7ff38" d="M.38 0h.084v1.25h-.084z"/><path fill="#c3ff3c" d="M.46 0h.094v1.25h-.094z"/><path fill="#bfff40" d="M.55 0h.084v1.25h-.084z"/><path fill="#bf4" d="M.63 0h.094v1.25h-.094z"/><path fill="#b7ff48" d="M.72 0h.084v1.25h-.084z"/><path fill="#b3ff4c" d="M.8 0h.094v1.25h-.094z"/><path fill="#afff50" d="M.89 0h.084v1.25h-.084z"/><path fill="#abff54" d="M.97 0h.034v1.25h-.034z"/></g><g transform="matrix(113.20 67.40 -1.236 1.821 158.89 115.37)"><path fill="#cfff30" d="M0 0h.084v1.25h-.084z"/><path fill="#cbff34" d="M.08 0h.094v1.25h-.094z"/><path fill="#c7ff38" d="M.17 0h.084v1.25h-.084z"/><path fill="#c3ff3c" d="M.25 0h.094v1.25h-.094z"/><path fill="#bfff40" d="M.34 0h.084v1.25h-.084z"/><path fill="#bf4" d="M.42 0h.094v1.25h-.094z"/><path fill="#b7ff48" d="M.51 0h.084v1.25h-.084z"/><path fill="#b3ff4c" d="M.59 0h.094v1.25h-.094z"/><path fill="#afff50" d="M.68 0h.084v1.25h-.084z"/><path fill="#abff54" d="M.76 0h.094v1.25h-.094z"/><path fill="#a7ff58" d="M.85 0h.084v1.25h-.084z"/><path fill="#a3ff5c" d="M.93 0h.074v1.25h-.074z"/></g><g transform="matrix(113.20 67.40 -1.236 1.819 157.65 117.19)"><path fill="#c7ff38" d="M0 0h.044v1.25h-.044z"/><path fill="#c3ff3c" d="M.04 0h.094v1.25h-.094z"/><path fill="#bfff40" d="M.13 0h.084v1.25h-.084z"/><path fill="#bf4" d="M.21 0h.094v1.25h-.094z"/><path fill="#b7ff48" d="M.3 0h.084v1.25h-.084z"/><path fill="#b3ff4c" d="M.38 0h.094v1.25h-.094z"/><path fill="#afff50" d="M.47 0h.084v1.25h-.084z"/><path fill="#abff54" d="M.55 0h.094v1.25h-.094z"/><path fill="#a7ff58" d="M.64 0h.084v1.25h-.084z"/><path fill="#a3ff5c" d="M.72 0h.094v1.25h-.094z"/><path fill="#9fff60" d="M.81 0h.084v1.25h-.084z"/><path fill="#9bff64" d="M.89 0h.094v1.25h-.094z"/><path fill="#97ff68" d="M.98 0h.024v1.25h-.024z"/></g><g transform="matrix(113.20 67.40 -1.236 1.817 156.42 119.01)"><path fill="#bf4" d="M0 0h.094v1.25h-.094z"/><path fill="#b7ff48" d="M.09 0h.084v1.25h-.084z"/><path fill="#b3ff4c" d="M.17 0h.094v1.25h-.094z"/><path fill="#afff50" d="M.26 0h.084v1.25h-.084z"/><path fill="#abff54" d="M.34 0h.094v1.25h-.094z"/><path fill="#a7ff58" d="M.43 0h.084v1.25h-.084z"/><path fill="#a3ff5c" d="M.51 0h.094v1.25h-.094z"/><path fill="#9fff60" d="M.6 0h.084v1.25h-.084z"/><path fill="#9bff64" d="M.68 0h.094v1.25h-.094z"/><path fill="#97ff68" d="M.77 0h.084v1.25h-.084z"/><path fill="#93ff6c" d="M.85 0h.094v1.25h-.094z"/><path fill="#8fff70" d="M.94 0h.064v1.25h-.064z"/></g><g transform="matrix(113.20 67.40 -1.236 1.814 155.18 120.83)"><path fill="#b3ff4c" d="M0 0h.054v1.25h-.054z"/><path fill="#afff50" d="M.05 0h.084v1.25h-.084z"/><path fill="#abff54" d="M.13 0h.094v1.25h-.094z"/><path fill="#a7ff58" d="M.22 0h.084v1.25h-.084z"/><path fill="#a3ff5c" d="M.3 0h.094v1.25h-.094z"/><path fill="#9fff60" d="M.39 0h.084v1.25h-.084z"/><path fill="#9bff64" d="M.47 0h.094v1.25h-.094z"/><path fill="#97ff68" d="M.56 0h.084v1.25h-.084z"/><path fill="#93ff6c" d="M.64 0h.094v1.25h-.094z"/><path fill="#8fff70" d="M.73 0h.084v1.25h-.084z"/><path fill="#8bff74" d="M.81 0h.094v1.25h-.094z"/><path fill="#87ff78" d="M.9 0h.084v1.25h-.084z"/><path fill="#83ff7c" d="M.98 0h.024v1.25h-.024z"/></g><g transform="matrix(113.20 67.40 -1.236 1.812 153.94 122.64)"><path fill="#abff54" d="M0 0h.014v1.25h-.014z"/><path fill="#a7ff58" d="M.01 0h.084v1.25h-.084z"/><path fill="#a3ff5c" d="M.09 0h.094v1.25h-.094z"/><path fill="#9fff60" d="M.18 0h.084v1.25h-.084z"/><path fill="#9bff64" d="M.26 0h.094v1.25h-.094z"/><path fill="#97ff68" d="M.35 0h.084v1.25h-.084z"/><path fill="#93ff6c" d="M.43 0h.094v1.25h-.094z"/><path fill="#8fff70" d="M.52 0h.084v1.25h-.084z"/><path fill="#8bff74" d="M.6 0h.094v1.25h-.094z"/><path fill="#87ff78" d="M.69 0h.084v1.25h-.084z"/><path fill="#83ff7c" d="M.77 0h.094v1.25h-.094z"/><path fill="#80ff80" d="M.86 0h.084v1.25h-.084z"/><path fill="#7cff83" d="M.94 0h.064v1.25h-.064z"/></g><g transform="matrix(113.20 67.40 -1.236 1.810 152.71 124.45)"><path fill="#9fff60" d="M0 0h.064v1.25h-.064z"/><path fill="#9bff64" d="M.06 0h.084v1.25h-.084z"/><path fill="#97ff68" d="M.14 0h.084v1.25h-.084z"/><path fill="#93ff6c" d="M.22 0h.094v1.25h-.094z"/><path fill="#8fff70" d="M.31 0h.084v1.25h-.084z"/><path fill="#8bff74" d="M.39 0h.094v1.25h-.094z"/><path fill="#87ff78" d="M.48 0h.084v1.25h-.084z"/><path fill="#83ff7c" d="M.56 0h.094v1.25h-.094z"/><path fill="#80ff80" d="M.65 0h.084v1.25h-.084z"/><path fill="#7cff83" d="M.73 0h.094v1.25h-.094z"/><path fill="#78ff87" d="M.82 0h.084v1.25h-.084z"/><path fill="#74ff8b" d="M.9 0h.094v1.25h-.094z"/><path fill="#70ff8f" d="M.99 0h.014v1.25h-.014z"/></g><g transform="matrix(113.20 67.40 -1.236 1.807 151.47 126.26)"><path fill="#97ff68" d="M0 0h.024v1.25h-.024z"/><path fill="#93ff6c" d="M.02 0h.084v1.25h-.084z"/><path fill="#8fff70" d="M.1 0h.094v1.25h-.094z"/><path fill="#8bff74" d="M.19 0h.084v1.25h-.084z"/><path fill="#87ff78" d="M.27 0h.094v1.25h-.094z"/><path fill="#83ff7c" d="M.36 0h.084v1.25h-.084z"/><path fill="#80ff80" d="M.44 0h.094v1.25h-.094z"/><path fill="#7cff83" d="M.53 0h.084v1.25h-.084z"/><path fill="#78ff87" d="M.61 0h.094v1.25h-.094z"/><path fill="#74ff8b" d="M.7 0h.084v1.25h-.084z"/><path fill="#70ff8f" d="M.78 0h.094v1.25h-.094z"/><path fill="#6cff93" d="M.87 0h.084v1.25h-.084z"/><path fill="#68ff97" d="M.95 0h.054v1.25h-.054z"/></g><g transform="matrix(113.20 67.40 -1.236 1.805 150.24 128.07)"><path fill="#8bff74" d="M0 0h.064v1.25h-.064z"/><path fill="#87ff78" d="M.06 0h.094v1.25h-.094z"/><path fill="#83ff7c" d="M.15 0h.084v1.25h-.084z"/><path fill="#80ff80" d="M.23 0h.094v1.25h-.094z"/><path fill="#7cff83" d="M.32 0h.084v1.25h-.084z"/><path fill="#78ff87" d="M.4 0h.094v1.25h-.094z"/><path fill="#74ff8b" d="M.49 0h.084v1.25h-.084z"/><path fill="#70ff8f" d="M.57 0h.094v1.25h-.094z"/><path fill="#6cff93" d="M.66 0h.084v1.25h-.084z"/><path fill="#68ff97" d="M.74 0h.094v1.25h-.094z"/><path fill="#64ff9b" d="M.83 0h.084v1.25h-.084z"/><path fill="#60ff9f" d="M.91 0h.094v1.25h-.094z"/></g><g transform="matrix(113.20 67.40 -1.236 1.803 149.00 129.88)"><path fill="#83ff7c" d="M0 0h.034v1.25h-.034z"/><path fill="#80ff80" d="M.03 0h.084v1.25h-.084z"/><path fill="#7cff83" d="M.11 0h.094v1.25h-.094z"/><path fill="#78ff87" d="M.2 0h.084v1.25h-.084z"/><path fill="#74ff8b" d="M.28 0h.094v1.25h-.094z"/><path fill="#70ff8f" d="M.37 0h.084v1.25h-.084z"/><path fill="#6cff93" d="M.45 0h.084v1.25h-.084z"/><path fill="#68ff97" d="M.53 0h.094v1.25h-.094z"/><path fill="#64ff9b" d="M.62 0h.084v1.25h-.084z"/><path fill="#60ff9f" d="M.7 0h.094v1.25h-.094z"/><path fill="#5cffa3" d="M.79 0h.084v1.25h-.084z"/><path fill="#58ffa7" d="M.87 0h.094v1.25h-.094z"/><path fill="#54ffab" d="M.96 0h.044v1.25h-.044z"/></g><g transform="matrix(113.20 67.40 -1.236 1.801 147.76 131.68)"><path fill="#78ff87" d="M0 0h.074v1.25h-.074z"/><path fill="#74ff8b" d="M.07 0h.094v1.25h-.094z"/><path fill="#70ff8f" d="M.16 0h.084v1.25h-.084z"/><path fill="#6cff93" d="M.24 0h.094v1.25h-.094z"/><path fill="#68ff97" d="M.33 0h.084v1.25h-.084z"/><path fill="#64ff9b" d="M.41 0h.094v1.25h-.094z"/><path fill="#60ff9f" d="M.5 0h.084v1.25h-.084z"/><path fill="#5cffa3" d="M.58 0h.094v1.25h-.094z"/><path fill="#58ffa7" d="M.67 0h.084v1.25h-.084z"/><path fill="#54ffab" d="M.75 0h.094v1.25h-.094z"/><path fill="#50ffaf" d="M.84 0h.084v1.25h-.084z"/><path fill="#4cffb3" d="M.92 0h.084v1.25h-.084z"/></g><g transform="matrix(113.20 67.40 -1.236 1.798 146.53 133.48)"><path fill="#70ff8f" d="M0 0h.044v1.25h-.044z"/><path fill="#6cff93" d="M.04 0h.084v1.25h-.084z"/><path fill="#68ff97" d="M.12 0h.094v1.25h-.094z"/><path fill="#64ff9b" d="M.21 0h.084v1.25h-.084z"/><path fill="#60ff9f" d="M.29 0h.094v1.25h-.094z"/><path fill="#5cffa3" d="M.38 0h.084v1.25h-.084z"/><path fill="#58ffa7" d="M.46 0h.094v1.25h-.094z"/><path fill="#54ffab" d="M.55 0h.084v1.25h-.084z"/><path fill="#50ffaf" d="M.63 0h.094v1.25h-.094z"/><path fill="#4cffb3" d="M.72 0h.084v1.25h-.084z"/><path fill="#48ffb7" d="M.8 0h.084v1.25h-.084z"/><path fill="#4fb" d="M.88 0h.094v1.25h-.094z"/><path fill="#40ffbf" d="M.97 0h.034v1.25h-.034z"/></g><g transform="matrix(113.20 67.40 -1.236 1.796 145.29 135.28)"><path fill="#64ff9b" d="M0 0h.084v1.25h-.084z"/><path fill="#60ff9f" d="M.08 0h.094v1.25h-.094z"/><path fill="#5cffa3" d="M.17 0h.084v1.25h-.084z"/><path fill="#58ffa7" d="M.25 0h.094v1.25h-.094z"/><path fill="#54ffab" d="M.34 0h.084v1.25h-.084z"/><path fill="#50ffaf" d="M.42 0h.094v1.25h-.094z"/><path fill="#4cffb3" d="M.51 0h.084v1.25h-.084z"/><path fill="#48ffb7" d="M.59 0h.094v1.25h-.094z"/><path fill="#4fb" d="M.68 0h.084v1.25h-.084z"/><path fill="#40ffbf" d="M.76 0h.094v1.25h-.094z"/><path fill="#3cffc3" d="M.85 0h.084v1.25h-.084z"/><path fill="#38ffc7" d="M.93 0h.074v1.25h-.074z"/></g><g transform="matrix(113.20 67.40 -1.236 1.794 144.06 137.07)"><path fill="#5cffa3" d="M0 0h.054v1.25h-.054z"/><path fill="#58ffa7" d="M.05 0h.084v1.25h-.084z"/><path fill="#54ffab" d="M.13 0h.094v1.25h-.094z"/><path fill="#50ffaf" d="M.22 0h.084v1.25h-.084z"/><path fill="#4cffb3" d="M.3 0h.094v1.25h-.094z"/><path fill="#48ffb7" d="M.39 0h.084v1.25h-.084z"/><path fill="#4fb" d="M.47 0h.094v1.25h-.094z"/><path fill="#40ffbf" d="M.56 0h.084v1.25h-.084z"/><path fill="#3cffc3" d="M.64 0h.094v1.25h-.094z"/><path fill="#38ffc7" d="M.73 0h.084v1.25h-.084z"/><path fill="#34ffcb" d="M.81 0h.094v1.25h-.094z"/><path fill="#30ffcf" d="M.9 0h.084v1.25h-.084z"/><path fill="#2cffd3" d="M.98 0h.024v1.25h-.024z"/></g><g transform="matrix(113.20 67.40 -1.236 1.791 142.82 138.87)"><path fill="#54ffab" d="M0 0h.014v1.25h-.014z"/><path fill="#50ffaf" d="M.01 0h.094v1.25h-.094z"/><path fill="#4cffb3" d="M.1 0h.084v1.25h-.084z"/><path fill="#48ffb7" d="M.18 0h.094v1.25h-.094z"/><path fill="#4fb" d="M.27 0h.084v1.25h-.084z"/><path fill="#40ffbf" d="M.35 0h.094v1.25h-.094z"/><path fill="#3cffc3" d="M.44 0h.084v1.25h-.084z"/><path fill="#38ffc7" d="M.52 0h.094v1.25h-.094z"/><path fill="#34ffcb" d="M.61 0h.084v1.25h-.084z"/><path fill="#30ffcf" d="M.69 0h.094v1.25h-.094z"/><path fill="#2cffd3" d="M.78 0h.084v1.25h-.084z"/><path fill="#28ffd7" d="M.86 0h.094v1.25h-.094z"/><path fill="#24ffdb" d="M.95 0h.054v1.25h-.054z"/></g><g transform="matrix(113.20 67.40 -1.236 1.789 141.58 140.66)"><path fill="#48ffb7" d="M0 0h.064v1.25h-.064z"/><path fill="#4fb" d="M.06 0h.094v1.25h-.094z"/><path fill="#40ffbf" d="M.15 0h.084v1.25h-.084z"/><path fill="#3cffc3" d="M.23 0h.094v1.25h-.094z"/><path fill="#38ffc7" d="M.32 0h.084v1.25h-.084z"/><path fill="#34ffcb" d="M.4 0h.094v1.25h-.094z"/><path fill="#30ffcf" d="M.49 0h.084v1.25h-.084z"/><path fill="#2cffd3" d="M.57 0h.094v1.25h-.094z"/><path fill="#28ffd7" d="M.66 0h.084v1.25h-.084z"/><path fill="#24ffdb" d="M.74 0h.094v1.25h-.094z"/><path fill="#20ffdf" d="M.83 0h.084v1.25h-.084z"/><path fill="#1cffe3" d="M.91 0h.094v1.25h-.094z"/></g><g transform="matrix(113.20 67.40 -1.236 1.787 140.35 142.45)"><path fill="#40ffbf" d="M0 0h.034v1.25h-.034z"/><path fill="#3cffc3" d="M.03 0h.084v1.25h-.084z"/><path fill="#38ffc7" d="M.11 0h.094v1.25h-.094z"/><path fill="#34ffcb" d="M.2 0h.084v1.25h-.084z"/><path fill="#30ffcf" d="M.28 0h.094v1.25h-.094z"/><path fill="#2cffd3" d="M.37 0h.084v1.25h-.084z"/><path fill="#28ffd7" d="M.45 0h.094v1.25h-.094z"/><path fill="#24ffdb" d="M.54 0h.084v1.25h-.084z"/><path fill="#20ffdf" d="M.62 0h.094v1.25h-.094z"/><path fill="#1cffe3" d="M.71 0h.084v1.25h-.084z"/><path fill="#18ffe7" d="M.79 0h.094v1.25h-.094z"/><path fill="#14ffeb" d="M.88 0h.084v1.25h-.084z"/><path fill="#10ffef" d="M.96 0h.044v1.25h-.044z"/></g><g transform="matrix(113.20 67.40 -1.236 1.784 139.11 144.23)"><path fill="#34ffcb" d="M0 0h.084v1.25h-.084z"/><path fill="#30ffcf" d="M.08 0h.084v1.25h-.084z"/><path fill="#2cffd3" d="M.16 0h.094v1.25h-.094z"/><path fill="#28ffd7" d="M.25 0h.084v1.25h-.084z"/><path fill="#24ffdb" d="M.33 0h.094v1.25h-.094z"/><path fill="#20ffdf" d="M.42 0h.084v1.25h-.084z"/><path fill="#1cffe3" d="M.5 0h.094v1.25h-.094z"/><path fill="#18ffe7" d="M.59 0h.084v1.25h-.084z"/><path fill="#14ffeb" d="M.67 0h.094v1.25h-.094z"/><path fill="#10ffef" d="M.76 0h.084v1.25h-.084z"/><path fill="#0cfff3" d="M.84 0h.094v1.25h-.094z"/><path fill="#08fff7" d="M.93 0h.074v1.25h-.074z"/></g><g transform="matrix(113.20 67.40 -1.236 1.782 137.88 146.02)"><path fill="#2cffd3" d="M0 0h.044v1.25h-.044z"/><path fill="#28ffd7" d="M.04 0h.094v1.25h-.094z"/><path fill="#24ffdb" d="M.13 0h.084v1.25h-.084z"/><path fill="#20ffdf" d="M.21 0h.094v1.25h-.094z"/><path fill="#1cffe3" d="M.3 0h.084v1.25h-.084z"/><path fill="#18ffe7" d="M.38 0h.094v1.25h-.094z"/><path fill="#14ffeb" d="M.47 0h.084v1.25h-.084z"/><path fill="#10ffef" d="M.55 0h.094v1.25h-.094z"/><path fill="#0cfff3" d="M.64 0h.084v1.25h-.084z"/><path fill="#08fff7" d="M.72 0h.094v1.25h-.094z"/><path fill="#04fffb" d="M.81 0h.084v1.25h-.084z"/><path fill="#0ff" d="M.89 0h.094v1.25h-.094z"/><path fill="#00fbff" d="M.98 0h.024v1.25h-.024z"/></g><g transform="matrix(113.20 67.40 -1.236 1.780 136.64 147.80)"><path fill="#24ffdb" d="M0 0h.014v1.25h-.014z"/><path fill="#20ffdf" d="M.01 0h.084v1.25h-.084z"/><path fill="#1cffe3" d="M.09 0h.094v1.25h-.094z"/><path fill="#18ffe7" d="M.18 0h.084v1.25h-.084z"/><path fill="#14ffeb" d="M.26 0h.094v1.25h-.094z"/><path fill="#10ffef" d="M.35 0h.084v1.25h-.084z"/><path fill="#0cfff3" d="M.43 0h.094v1.25h-.094z"/><path fill="#08fff7" d="M.52 0h.084v1.25h-.084z"/><path fill="#04fffb" d="M.6 0h.094v1.25h-.094z"/><path fill="#0ff" d="M.69 0h.084v1.25h-.084z"/><path fill="#00fbff" d="M.77 0h.094v1.25h-.094z"/><path fill="#00f7ff" d="M.86 0h.084v1.25h-.084z"/><path fill="#00f3ff" d="M.94 0h.064v1.25h-.064z"/></g><g transform="matrix(113.20 67.40 -1.236 1.778 135.40 149.58)"><path fill="#18ffe7" d="M0 0h.064v1.25h-.064z"/><path fill="#14ffeb" d="M.06 0h.094v1.25h-.094z"/><path fill="#10ffef" d="M.15 0h.084v1.25h-.084z"/><path fill="#0cfff3" d="M.23 0h.094v1.25h-.094z"/><path fill="#08fff7" d="M.32 0h.084v1.25h-.084z"/><path fill="#04fffb" d="M.4 0h.084v1.25h-.084z"/><path fill="#0ff" d="M.48 0h.094v1.25h-.094z"/><path fill="#00fbff" d="M.57 0h.084v1.25h-.084z"/><path fill="#00f7ff" d="M.65 0h.094v1.25h-.094z"/><path fill="#00f3ff" d="M.74 0h.084v1.25h-.084z"/><path fill="#00efff" d="M.82 0h.094v1.25h-.094z"/><path fill="#00ebff" d="M.91 0h.084v1.25h-.084z"/><path fill="#00e7ff" d="M.99 0h.014v1.25h-.014z"/></g><g transform="matrix(113.20 67.40 -1.236 1.775 134.17 151.36)"><path fill="#10ffef" d="M0 0h.034v1.25h-.034z"/><path fill="#0cfff3" d="M.03 0h.084v1.25h-.084z"/><path fill="#08fff7" d="M.11 0h.094v1.25h-.094z"/><path fill="#04fffb" d="M.2 0h.084v1.25h-.084z"/><path fill="#0ff" d="M.28 0h.094v1.25h-.094z"/><path fill="#00fbff" d="M.37 0h.084v1.25h-.084z"/><path fill="#00f7ff" d="M.45 0h.094v1.25h-.094z"/><path fill="#00f3ff" d="M.54 0h.084v1.25h-.084z"/><path fill="#00efff" d="M.62 0h.094v1.25h-.094z"/><path fill="#00ebff" d="M.71 0h.084v1.25h-.084z"/><path fill="#00e7ff" d="M.79 0h.094v1.25h-.094z"/><path fill="#00e3ff" d="M.88 0h.084v1.25h-.084z"/><path fill="#00dfff" d="M.96 0h.044v1.25h-.044z"/></g><g transform="matrix(113.20 67.40 -1.236 1.773 132.93 153.13)"><path fill="#04fffb" d="M0 0h.084v1.25h-.084z"/><path fill="#0ff" d="M.08 0h.084v1.25h-.084z"/><path fill="#00fbff" d="M.16 0h.094v1.25h-.094z"/><path fill="#00f7ff" d="M.25 0h.084v1.25h-.084z"/><path fill="#00f3ff" d="M.33 0h.094v1.25h-.094z"/><path fill="#00efff" d="M.42 0h.084v1.25h-.084z"/><path fill="#00ebff" d="M.5 0h.094v1.25h-.094z"/><path fill="#00e7ff" d="M.59 0h.084v1.25h-.084z"/><path fill="#00e3ff" d="M.67 0h.094v1.25h-.094z"/><path fill="#00dfff" d="M.76 0h.084v1.25h-.084z"/><path fill="#00dbff" d="M.84 0h.094v1.25h-.094z"/><path fill="#00d7ff" d="M.93 0h.074v1.25h-.074z"/></g><g transform="matrix(113.20 67.40 -1.236 1.771 131.70 154.91)"><path fill="#00fbff" d="M0 0h.054v1.25h-.054z"/><path fill="#00f7ff" d="M.05 0h.084v1.25h-.084z"/><path fill="#00f3ff" d="M.13 0h.094v1.25h-.094z"/><path fill="#00efff" d="M.22 0h.084v1.25h-.084z"/><path fill="#00ebff" d="M.3 0h.094v1.25h-.094z"/><path fill="#00e7ff" d="M.39 0h.084v1.25h-.084z"/><path fill="#00e3ff" d="M.47 0h.094v1.25h-.094z"/><path fill="#00dfff" d="M.56 0h.084v1.25h-.084z"/><path fill="#00dbff" d="M.64 0h.094v1.25h-.094z"/><path fill="#00d7ff" d="M.73 0h.084v1.25h-.084z"/><path fill="#00d3ff" d="M.81 0h.094v1.25h-.094z"/><path fill="#00cfff" d="M.9 0h.084v1.25h-.084z"/><path fill="#00cbff" d="M.98 0h.024v1.25h-.024z"/></g><g transform="matrix(113.20 67.40 -1.236 1.768 130.46 156.68)"><path fill="#00f3ff" d="M0 0h.024v1.25h-.024z"/><path fill="#00efff" d="M.02 0h.084v1.25h-.084z"/><path fill="#00ebff" d="M.1 0h.094v1.25h-.094z"/><path fill="#00e7ff" d="M.19 0h.084v1.25h-.084z"/><path fill="#00e3ff" d="M.27 0h.084v1.25h-.084z"/><path fill="#00dfff" d="M.35 0h.094v1.25h-.094z"/><path fill="#00dbff" d="M.44 0h.084v1.25h-.084z"/><path fill="#00d7ff" d="M.52 0h.094v1.25h-.094z"/><path fill="#00d3ff" d="M.61 0h.084v1.25h-.084z"/><path fill="#00cfff" d="M.69 0h.094v1.25h-.094z"/><path fill="#00cbff" d="M.78 0h.084v1.25h-.084z"/><path fill="#00c7ff" d="M.86 0h.094v1.25h-.094z"/><path fill="#00c3ff" d="M.95 0h.054v1.25h-.054z"/></g><g transform="matrix(113.20 67.40 -1.236 1.766 129.22 158.44)"><path fill="#00e7ff" d="M0 0h.074v1.25h-.074z"/><path fill="#00e3ff" d="M.07 0h.084v1.25h-.084z"/><path fill="#00dfff" d="M.15 0h.094v1.25h-.094z"/><path fill="#00dbff" d="M.24 0h.084v1.25h-.084z"/><path fill="#00d7ff" d="M.32 0h.094v1.25h-.094z"/><path fill="#00d3ff" d="M.41 0h.084v1.25h-.084z"/><path fill="#00cfff" d="M.49 0h.094v1.25h-.094z"/><path fill="#00cbff" d="M.58 0h.084v1.25h-.084z"/><path fill="#00c7ff" d="M.66 0h.094v1.25h-.094z"/><path fill="#00c3ff" d="M.75 0h.084v1.25h-.084z"/><path fill="#00bfff" d="M.83 0h.094v1.25h-.094z"/><path fill="#0bf" d="M.92 0h.084v1.25h-.084z"/></g><g transform="matrix(113.20 67.40 -1.236 1.764 127.99 160.21)"><path fill="#00dfff" d="M0 0h.044v1.25h-.044z"/><path fill="#00dbff" d="M.04 0h.084v1.25h-.084z"/><path fill="#00d7ff" d="M.12 0h.094v1.25h-.094z"/><path fill="#00d3ff" d="M.21 0h.084v1.25h-.084z"/><path fill="#00cfff" d="M.29 0h.094v1.25h-.094z"/><path fill="#00cbff" d="M.38 0h.084v1.25h-.084z"/><path fill="#00c7ff" d="M.46 0h.094v1.25h-.094z"/><path fill="#00c3ff" d="M.55 0h.084v1.25h-.084z"/><path fill="#00bfff" d="M.63 0h.094v1.25h-.094z"/><path fill="#0bf" d="M.72 0h.084v1.25h-.084z"/><path fill="#00b7ff" d="M.8 0h.094v1.25h-.094z"/><path fill="#00b3ff" d="M.89 0h.084v1.25h-.084z"/><path fill="#00afff" d="M.97 0h.034v1.25h-.034z"/></g><g transform="matrix(113.20 67.40 -1.236 1.761 126.75 161.97)"><path fill="#00d7ff" d="M0 0h.014v1.25h-.014z"/><path fill="#00d3ff" d="M.01 0h.084v1.25h-.084z"/><path fill="#00cfff" d="M.09 0h.094v1.25h-.094z"/><path fill="#00cbff" d="M.18 0h.084v1.25h-.084z"/><path fill="#00c7ff" d="M.26 0h.094v1.25h-.094z"/><path fill="#00c3ff" d="M.35 0h.084v1.25h-.084z"/><path fill="#00bfff" d="M.43 0h.094v1.25h-.094z"/><path fill="#0bf" d="M.52 0h.084v1.25h-.084z"/><path fill="#00b7ff" d="M.6 0h.094v1.25h-.094z"/><path fill="#00b3ff" d="M.69 0h.084v1.25h-.084z"/><path fill="#00afff" d="M.77 0h.084v1.25h-.084z"/><path fill="#00abff" d="M.85 0h.094v1.25h-.094z"/><path fill="#00a7ff" d="M.94 0h.064v1.25h-.064z"/></g><g transform="matrix(113.20 67.40 -1.236 1.759 125.52 163.74)"><path fill="#00cbff" d="M0 0h.064v1.25h-.064z"/><path fill="#00c7ff" d="M.06 0h.094v1.25h-.094z"/><path fill="#00c3ff" d="M.15 0h.084v1.25h-.084z"/><path fill="#00bfff" d="M.23 0h.094v1.25h-.094z"/><path fill="#0bf" d="M.32 0h.084v1.25h-.084z"/><path fill="#00b7ff" d="M.4 0h.094v1.25h-.094z"/><path fill="#00b3ff" d="M.49 0h.084v1.25h-.084z"/><path fill="#00afff" d="M.57 0h.084v1.25h-.084z"/><path fill="#00abff" d="M.65 0h.094v1.25h-.094z"/><path fill="#00a7ff" d="M.74 0h.084v1.25h-.084z"/><path fill="#00a3ff" d="M.82 0h.094v1.25h-.094z"/><path fill="#009fff" d="M.91 0h.084v1.25h-.084z"/><path fill="#009bff" d="M.99 0h.014v1.25h-.014z"/></g><g transform="matrix(113.20 67.40 -1.236 1.757 124.28 165.49)"><path fill="#00c3ff" d="M0 0h.034v1.25h-.034z"/><path fill="#00bfff" d="M.03 0h.094v1.25h-.094z"/><path fill="#0bf" d="M.12 0h.084v1.25h-.084z"/><path fill="#00b7ff" d="M.2 0h.094v1.25h-.094z"/><path fill="#00b3ff" d="M.29 0h.084v1.25h-.084z"/><path fill="#00afff" d="M.37 0h.094v1.25h-.094z"/><path fill="#00abff" d="M.46 0h.084v1.25h-.084z"/><path fill="#00a7ff" d="M.54 0h.084v1.25h-.084z"/><path fill="#00a3ff" d="M.62 0h.094v1.25h-.094z"/><path fill="#009fff" d="M.71 0h.084v1.25h-.084z"/><path fill="#009bff" d="M.79 0h.094v1.25h-.094z"/><path fill="#0097ff" d="M.88 0h.084v1.25h-.084z"/><path fill="#0093ff" d="M.96 0h.044v1.25h-.044z"/></g><g transform="matrix(113.20 67.40 -1.236 1.755 123.04 167.25)"><path fill="#00b7ff" d="M0 0h.094v1.25h-.094z"/><path fill="#00b3ff" d="M.09 0h.084v1.25h-.084z"/><path fill="#00afff" d="M.17 0h.094v1.25h-.094z"/><path fill="#00abff" d="M.26 0h.084v1.25h-.084z"/><path fill="#00a7ff" d="M.34 0h.094v1.25h-.094z"/><path fill="#00a3ff" d="M.43 0h.084v1.25h-.084z"/><path fill="#009fff" d="M.51 0h.094v1.25h-.094z"/><path fill="#009bff" d="M.6 0h.084v1.25h-.084z"/><path fill="#0097ff" d="M.68 0h.084v1.25h-.084z"/><path fill="#0093ff" d="M.76 0h.094v1.25h-.094z"/><path fill="#008fff" d="M.85 0h.084v1.25h-.084z"/><path fill="#008bff" d="M.93 0h.074v1.25h-.074z"/></g><g transform="matrix(113.20 67.40 -1.236 1.752 121.81 169.01)"><path fill="#00afff" d="M0 0h.064v1.25h-.064z"/><path fill="#00abff" d="M.06 0h.084v1.25h-.084z"/><path fill="#00a7ff" d="M.14 0h.094v1.25h-.094z"/><path fill="#00a3ff" d="M.23 0h.084v1.25h-.084z"/><path fill="#009fff" d="M.31 0h.094v1.25h-.094z"/><path fill="#009bff" d="M.4 0h.084v1.25h-.084z"/><path fill="#0097ff" d="M.48 0h.094v1.25h-.094z"/><path fill="#0093ff" d="M.57 0h.084v1.25h-.084z"/><path fill="#008fff" d="M.65 0h.094v1.25h-.094z"/><path fill="#008bff" d="M.74 0h.084v1.25h-.084z"/><path fill="#0087ff" d="M.82 0h.094v1.25h-.094z"/><path fill="#0083ff" d="M.91 0h.084v1.25h-.084z"/><path fill="#0080ff" d="M.99 0h.014v1.25h-.014z"/></g><g transform="matrix(113.20 67.40 -1.236 1.750 120.57 170.76)"><path fill="#00a7ff" d="M0 0h.034v1.25h-.034z"/><path fill="#00a3ff" d="M.03 0h.084v1.25h-.084z"/><path fill="#009fff" d="M.11 0h.094v1.25h-.094z"/><path fill="#009bff" d="M.2 0h.084v1.25h-.084z"/><path fill="#0097ff" d="M.28 0h.094v1.25h-.094z"/><path fill="#0093ff" d="M.37 0h.084v1.25h-.084z"/><path fill="#008fff" d="M.45 0h.094v1.25h-.094z"/><path fill="#008bff" d="M.54 0h.084v1.25h-.084z"/><path fill="#0087ff" d="M.62 0h.094v1.25h-.094z"/><path fill="#0083ff" d="M.71 0h.084v1.25h-.084z"/><path fill="#0080ff" d="M.79 0h.094v1.25h-.094z"/><path fill="#007cff" d="M.88 0h.084v1.25h-.084z"/><path fill="#0078ff" d="M.96 0h.044v1.25h-.044z"/></g><g transform="matrix(113.20 67.40 -1.236 1.748 119.34 172.51)"><path fill="#009bff" d="M0 0h.084v1.25h-.084z"/><path fill="#0097ff" d="M.08 0h.094v1.25h-.094z"/><path fill="#0093ff" d="M.17 0h.084v1.25h-.084z"/><path fill="#008fff" d="M.25 0h.094v1.25h-.094z"/><path fill="#008bff" d="M.34 0h.084v1.25h-.084z"/><path fill="#0087ff" d="M.42 0h.094v1.25h-.094z"/><path fill="#0083ff" d="M.51 0h.084v1.25h-.084z"/><path fill="#0080ff" d="M.59 0h.094v1.25h-.094z"/><path fill="#007cff" d="M.68 0h.084v1.25h-.084z"/><path fill="#0078ff" d="M.76 0h.094v1.25h-.094z"/><path fill="#0074ff" d="M.85 0h.084v1.25h-.084z"/><path fill="#0070ff" d="M.93 0h.074v1.25h-.074z"/></g><g transform="matrix(113.20 67.40 -1.236 1.745 118.10 174.26)"><path fill="#0093ff" d="M0 0h.064v1.25h-.064z"/><path fill="#008fff" d="M.06 0h.084v1.25h-.084z"/><path fill="#008bff" d="M.14 0h.094v1.25h-.094z"/><path fill="#0087ff" d="M.23 0h.084v1.25h-.084z"/><path fill="#0083ff" d="M.31 0h.094v1.25h-.094z"/><path fill="#0080ff" d="M.4 0h.084v1.25h-.084z"/><path fill="#007cff" d="M.48 0h.094v1.25h-.094z"/><path fill="#0078ff" d="M.57 0h.084v1.25h-.084z"/><path fill="#0074ff" d="M.65 0h.084v1.25h-.084z"/><path fill="#0070ff" d="M.73 0h.094v1.25h-.094z"/><path fill="#006cff" d="M.82 0h.084v1.25h-.084z"/><path fill="#0068ff" d="M.9 0h.094v1.25h-.094z"/><path fill="#0064ff" d="M.99 0h.014v1.25h-.014z"/></g><g transform="matrix(113.20 67.40 -1.236 1.743 116.86 176.00)"><path fill="#008bff" d="M0 0h.034v1.25h-.034z"/><path fill="#0087ff" d="M.03 0h.084v1.25h-.084z"/><path fill="#0083ff" d="M.11 0h.094v1.25h-.094z"/><path fill="#0080ff" d="M.2 0h.084v1.25h-.084z"/><path fill="#007cff" d="M.28 0h.094v1.25h-.094z"/><path fill="#0078ff" d="M.37 0h.084v1.25h-.084z"/><path fill="#0074ff" d="M.45 0h.094v1.25h-.094z"/><path fill="#0070ff" d="M.54 0h.084v1.25h-.084z"/><path fill="#006cff" d="M.62 0h.094v1.25h-.094z"/><path fill="#0068ff" d="M.71 0h.084v1.25h-.084z"/><path fill="#0064ff" d="M.79 0h.094v1.25h-.094z"/><path fill="#0060ff" d="M.88 0h.084v1.25h-.084z"/><path fill="#005cff" d="M.96 0h.044v1.25h-.044z"/></g><g transform="matrix(113.20 67.40 -1.236 1.741 115.63 177.74)"><path fill="#0080ff" d="M0 0h.094v1.25h-.094z"/><path fill="#007cff" d="M.09 0h.084v1.25h-.084z"/><path fill="#0078ff" d="M.17 0h.094v1.25h-.094z"/><path fill="#0074ff" d="M.26 0h.084v1.25h-.084z"/><path fill="#0070ff" d="M.34 0h.094v1.25h-.094z"/><path fill="#006cff" d="M.43 0h.084v1.25h-.084z"/><path fill="#0068ff" d="M.51 0h.094v1.25h-.094z"/><path fill="#0064ff" d="M.6 0h.084v1.25h-.084z"/><path fill="#0060ff" d="M.68 0h.084v1.25h-.084z"/><path fill="#005cff" d="M.76 0h.094v1.25h-.094z"/><path fill="#0058ff" d="M.85 0h.084v1.25h-.084z"/><path fill="#0054ff" d="M.93 0h.074v1.25h-.074z"/></g><g transform="matrix(113.20 67.40 -1.236 1.738 114.39 179.49)"><path fill="#0078ff" d="M0 0h.064v1.25h-.064z"/><path fill="#0074ff" d="M.06 0h.084v1.25h-.084z"/><path fill="#0070ff" d="M.14 0h.094v1.25h-.094z"/><path fill="#006cff" d="M.23 0h.084v1.25h-.084z"/><path fill="#0068ff" d="M.31 0h.094v1.25h-.094z"/><path fill="#0064ff" d="M.4 0h.084v1.25h-.084z"/><path fill="#0060ff" d="M.48 0h.094v1.25h-.094z"/><path fill="#005cff" d="M.57 0h.084v1.25h-.084z"/><path fill="#0058ff" d="M.65 0h.094v1.25h-.094z"/><path fill="#0054ff" d="M.74 0h.084v1.25h-.084z"/><path fill="#0050ff" d="M.82 0h.094v1.25h-.094z"/><path fill="#004cff" d="M.91 0h.084v1.25h-.084z"/><path fill="#0048ff" d="M.99 0h.014v1.25h-.014z"/></g><g transform="matrix(113.20 67.40 -1.236 1.736 113.16 181.22)"><path fill="#0070ff" d="M0 0h.034v1.25h-.034z"/><path fill="#006cff" d="M.03 0h.094v1.25h-.094z"/><path fill="#0068ff" d="M.12 0h.084v1.25h-.084z"/><path fill="#0064ff" d="M.2 0h.094v1.25h-.094z"/><path fill="#0060ff" d="M.29 0h.084v1.25h-.084z"/><path fill="#005cff" d="M.37 0h.094v1.25h-.094z"/><path fill="#0058ff" d="M.46 0h.084v1.25h-.084z"/><path fill="#0054ff" d="M.54 0h.094v1.25h-.094z"/><path fill="#0050ff" d="M.63 0h.084v1.25h-.084z"/><path fill="#004cff" d="M.71 0h.094v1.25h-.094z"/><path fill="#0048ff" d="M.8 0h.084v1.25h-.084z"/><path fill="#04f" d="M.88 0h.094v1.25h-.094z"/><path fill="#0040ff" d="M.97 0h.034v1.25h-.034z"/></g><g transform="matrix(113.20 67.40 -1.236 1.734 111.92 182.96)"><path fill="#0068ff" d="M0 0h.014v1.25h-.014z"/><path fill="#0064ff" d="M.01 0h.084v1.25h-.084z"/><path fill="#0060ff" d="M.09 0h.094v1.25h-.094z"/><path fill="#005cff" d="M.18 0h.084v1.25h-.084z"/><path fill="#0058ff" d="M.26 0h.094v1.25h-.094z"/><path fill="#0054ff" d="M.35 0h.084v1.25h-.084z"/><path fill="#0050ff" d="M.43 0h.094v1.25h-.094z"/><path fill="#004cff" d="M.52 0h.084v1.25h-.084z"/><path fill="#0048ff" d="M.6 0h.084v1.25h-.084z"/><path fill="#04f" d="M.68 0h.094v1.25h-.094z"/><path fill="#0040ff" d="M.77 0h.084v1.25h-.084z"/><path fill="#003cff" d="M.85 0h.094v1.25h-.094z"/><path fill="#0038ff" d="M.94 0h.064v1.25h-.064z"/></g><g transform="matrix(113.20 67.40 -1.236 1.732 110.68 184.69)"><path fill="#005cff" d="M0 0h.074v1.25h-.074z"/><path fill="#0058ff" d="M.07 0h.084v1.25h-.084z"/><path fill="#0054ff" d="M.15 0h.084v1.25h-.084z"/><path fill="#0050ff" d="M.23 0h.094v1.25h-.094z"/><path fill="#004cff" d="M.32 0h.084v1.25h-.084z"/><path fill="#0048ff" d="M.4 0h.094v1.25h-.094z"/><path fill="#04f" d="M.49 0h.084v1.25h-.084z"/><path fill="#0040ff" d="M.57 0h.094v1.25h-.094z"/><path fill="#003cff" d="M.66 0h.084v1.25h-.084z"/><path fill="#0038ff" d="M.74 0h.094v1.25h-.094z"/><path fill="#0034ff" d="M.83 0h.084v1.25h-.084z"/><path fill="#0030ff" d="M.91 0h.094v1.25h-.094z"/></g><g transform="matrix(113.20 67.40 -1.236 1.729 109.45 186.43)"><path fill="#0054ff" d="M0 0h.044v1.25h-.044z"/><path fill="#0050ff" d="M.04 0h.084v1.25h-.084z"/><path fill="#004cff" d="M.12 0h.094v1.25h-.094z"/><path fill="#0048ff" d="M.21 0h.084v1.25h-.084z"/><path fill="#04f" d="M.29 0h.094v1.25h-.094z"/><path fill="#0040ff" d="M.38 0h.084v1.25h-.084z"/><path fill="#003cff" d="M.46 0h.094v1.25h-.094z"/><path fill="#0038ff" d="M.55 0h.084v1.25h-.084z"/><path fill="#0034ff" d="M.63 0h.094v1.25h-.094z"/><path fill="#0030ff" d="M.72 0h.084v1.25h-.084z"/><path fill="#002cff" d="M.8 0h.094v1.25h-.094z"/><path fill="#0028ff" d="M.89 0h.084v1.25h-.084z"/><path fill="#0024ff" d="M.97 0h.034v1.25h-.034z"/></g><g transform="matrix(113.20 67.40 -1.236 1.727 108.21 188.15)"><path fill="#004cff" d="M0 0h.014v1.25h-.014z"/><path fill="#0048ff" d="M.01 0h.094v1.25h-.094z"/><path fill="#04f" d="M.1 0h.084v1.25h-.084z"/><path fill="#0040ff" d="M.18 0h.094v1.25h-.094z"/><path fill="#003cff" d="M.27 0h.084v1.25h-.084z"/><path fill="#0038ff" d="M.35 0h.094v1.25h-.094z"/><path fill="#0034ff" d="M.44 0h.084v1.25h-.084z"/><path fill="#0030ff" d="M.52 0h.094v1.25h-.094z"/><path fill="#002cff" d="M.61 0h.084v1.25h-.084z"/><path fill="#0028ff" d="M.69 0h.094v1.25h-.094z"/><path fill="#0024ff" d="M.78 0h.084v1.25h-.084z"/><path fill="#0020ff" d="M.86 0h.094v1.25h-.094z"/><path fill="#001cff" d="M.95 0h.054v1.25h-.054z"/></g><g transform="matrix(113.20 67.40 -1.236 1.725 106.98 189.88)"><path fill="#0040ff" d="M0 0h.084v1.25h-.084z"/><path fill="#003cff" d="M.08 0h.084v1.25h-.084z"/><path fill="#0038ff" d="M.16 0h.084v1.25h-.084z"/><path fill="#0034ff" d="M.24 0h.094v1.25h-.094z"/><path fill="#0030ff" d="M.33 0h.084v1.25h-.084z"/><path fill="#002cff" d="M.41 0h.094v1.25h-.094z"/><path fill="#0028ff" d="M.5 0h.084v1.25h-.084z"/><path fill="#0024ff" d="M.58 0h.094v1.25h-.094z"/><path fill="#0020ff" d="M.67 0h.084v1.25h-.084z"/><path fill="#001cff" d="M.75 0h.094v1.25h-.094z"/><path fill="#0018ff" d="M.84 0h.084v1.25h-.084z"/><path fill="#0014ff" d="M.92 0h.084v1.25h-.084z"/></g><g transform="matrix(113.20 67.40 -1.236 1.722 105.74 191.61)"><path fill="#0038ff" d="M0 0h.054v1.25h-.054z"/><path fill="#0034ff" d="M.05 0h.094v1.25h-.094z"/><path fill="#0030ff" d="M.14 0h.084v1.25h-.084z"/><path fill="#002cff" d="M.22 0h.094v1.25h-.094z"/><path fill="#0028ff" d="M.31 0h.084v1.25h-.084z"/><path fill="#0024ff" d="M.39 0h.084v1.25h-.084z"/><path fill="#0020ff" d="M.47 0h.094v1.25h-.094z"/><path fill="#001cff" d="M.56 0h.084v1.25h-.084z"/><path fill="#0018ff" d="M.64 0h.094v1.25h-.094z"/><path fill="#0014ff" d="M.73 0h.084v1.25h-.084z"/><path fill="#0010ff" d="M.81 0h.094v1.25h-.094z"/><path fill="#000cff" d="M.9 0h.084v1.25h-.084z"/><path fill="#0008ff" d="M.98 0h.024v1.25h-.024z"/></g><g transform="matrix(113.20 67.40 -1.236 1.720 104.50 193.33)"><path fill="#0030ff" d="M0 0h.034v1.25h-.034z"/><path fill="#002cff" d="M.03 0h.084v1.25h-.084z"/><path fill="#0028ff" d="M.11 0h.094v1.25h-.094z"/><path fill="#0024ff" d="M.2 0h.084v1.25h-.084z"/><path fill="#0020ff" d="M.28 0h.094v1.25h-.094z"/><path fill="#001cff" d="M.37 0h.084v1.25h-.084z"/><path fill="#0018ff" d="M.45 0h.094v1.25h-.094z"/><path fill="#0014ff" d="M.54 0h.084v1.25h-.084z"/><path fill="#0010ff" d="M.62 0h.094v1.25h-.094z"/><path fill="#000cff" d="M.71 0h.084v1.25h-.084z"/><path fill="#0008ff" d="M.79 0h.094v1.25h-.094z"/><path fill="#0004ff" d="M.88 0h.084v1.25h-.084z"/><path fill="#00f" d="M.96 0h.044v1.25h-.044z"/></g><g transform="matrix(113.20 67.40 -1.236 1.718 103.27 195.05)"><path fill="#0024ff" d="M0 0h.094v1.25h-.094z"/><path fill="#0020ff" d="M.09 0h.084v1.25h-.084z"/><path fill="#001cff" d="M.17 0h.094v1.25h-.094z"/><path fill="#0018ff" d="M.26 0h.084v1.25h-.084z"/><path fill="#0014ff" d="M.34 0h.094v1.25h-.094z"/><path fill="#0010ff" d="M.43 0h.084v1.25h-.084z"/><path fill="#000cff" d="M.51 0h.094v1.25h-.094z"/><path fill="#0008ff" d="M.6 0h.084v1.25h-.084z"/><path fill="#0004ff" d="M.68 0h.094v1.25h-.094z"/><path fill="#00f" d="M.77 0h.084v1.25h-.084z"/><path fill="#0000fb" d="M.85 0h.094v1.25h-.094z"/><path fill="#0000f7" d="M.94 0h.064v1.25h-.064z"/></g><g transform="matrix(113.20 67.40 -1.236 1.715 102.03 196.77)"><path fill="#001cff" d="M0 0h.074v1.25h-.074z"/><path fill="#0018ff" d="M.07 0h.084v1.25h-.084z"/><path fill="#0014ff" d="M.15 0h.084v1.25h-.084z"/><path fill="#0010ff" d="M.23 0h.094v1.25h-.094z"/><path fill="#000cff" d="M.32 0h.084v1.25h-.084z"/><path fill="#0008ff" d="M.4 0h.094v1.25h-.094z"/><path fill="#0004ff" d="M.49 0h.084v1.25h-.084z"/><path fill="#00f" d="M.57 0h.094v1.25h-.094z"/><path fill="#0000fb" d="M.66 0h.084v1.25h-.084z"/><path fill="#0000f7" d="M.74 0h.094v1.25h-.094z"/><path fill="#0000f3" d="M.83 0h.084v1.25h-.084z"/><path fill="#0000ef" d="M.91 0h.094v1.25h-.094z"/></g><g transform="matrix(113.20 67.40 -1.236 1.713 100.80 198.48)"><path fill="#0014ff" d="M0 0h.044v1.25h-.044z"/><path fill="#0010ff" d="M.04 0h.094v1.25h-.094z"/><path fill="#000cff" d="M.13 0h.084v1.25h-.084z"/><path fill="#0008ff" d="M.21 0h.094v1.25h-.094z"/><path fill="#0004ff" d="M.3 0h.084v1.25h-.084z"/><path fill="#00f" d="M.38 0h.094v1.25h-.094z"/><path fill="#0000fb" d="M.47 0h.084v1.25h-.084z"/><path fill="#0000f7" d="M.55 0h.094v1.25h-.094z"/><path fill="#0000f3" d="M.64 0h.084v1.25h-.084z"/><path fill="#0000ef" d="M.72 0h.094v1.25h-.094z"/><path fill="#0000eb" d="M.81 0h.084v1.25h-.084z"/><path fill="#0000e7" d="M.89 0h.094v1.25h-.094z"/><path fill="#0000e3" d="M.98 0h.024v1.25h-.024z"/></g><g transform="matrix(113.20 67.40 -1.236 1.711 99.56 200.19)"><path fill="#000cff" d="M0 0h.024v1.25h-.024z"/><path fill="#0008ff" d="M.02 0h.084v1.25h-.084z"/><path fill="#0004ff" d="M.1 0h.094v1.25h-.094z"/><path fill="#00f" d="M.19 0h.084v1.25h-.084z"/><path fill="#0000fb" d="M.27 0h.094v1.25h-.094z"/><path fill="#0000f7" d="M.36 0h.084v1.25h-.084z"/><path fill="#0000f3" d="M.44 0h.094v1.25h-.094z"/><path fill="#0000ef" d="M.53 0h.084v1.25h-.084z"/><path fill="#0000eb" d="M.61 0h.094v1.25h-.094z"/><path fill="#0000e7" d="M.7 0h.084v1.25h-.084z"/><path fill="#0000e3" d="M.78 0h.094v1.25h-.094z"/><path fill="#0000df" d="M.87 0h.084v1.25h-.084z"/><path fill="#0000db" d="M.95 0h.054v1.25h-.054z"/></g><g transform="matrix(113.20 67.40 -1.236 1.709 98.32 201.91)"><path fill="#00f" d="M0 0h.084v1.25h-.084z"/><path fill="#0000fb" d="M.08 0h.094v1.25h-.094z"/><path fill="#0000f7" d="M.17 0h.084v1.25h-.084z"/><path fill="#0000f3" d="M.25 0h.094v1.25h-.094z"/><path fill="#0000ef" d="M.34 0h.084v1.25h-.084z"/><path fill="#0000eb" d="M.42 0h.094v1.25h-.094z"/><path fill="#0000e7" d="M.51 0h.084v1.25h-.084z"/><path fill="#0000e3" d="M.59 0h.094v1.25h-.094z"/><path fill="#0000df" d="M.68 0h.084v1.25h-.084z"/><path fill="#0000db" d="M.76 0h.094v1.25h-.094z"/><path fill="#0000d7" d="M.85 0h.084v1.25h-.084z"/><path fill="#0000d3" d="M.93 0h.074v1.25h-.074z"/></g><g transform="matrix(113.20 67.40 -1.236 1.706 97.09 203.61)"><path fill="#0000f7" d="M0 0h.064v1.25h-.064z"/><path fill="#0000f3" d="M.06 0h.094v1.25h-.094z"/><path fill="#0000ef" d="M.15 0h.084v1.25h-.084z"/><path fill="#0000eb" d="M.23 0h.094v1.25h-.094z"/><path fill="#0000e7" d="M.32 0h.084v1.25h-.084z"/><path fill="#0000e3" d="M.4 0h.094v1.25h-.094z"/><path fill="#0000df" d="M.49 0h.084v1.25h-.084z"/><path fill="#0000db" d="M.57 0h.084v1.25h-.084z"/><path fill="#0000d7" d="M.65 0h.094v1.25h-.094z"/><path fill="#0000d3" d="M.74 0h.084v1.25h-.084z"/><path fill="#0000cf" d="M.82 0h.094v1.25h-.094z"/><path fill="#0000cb" d="M.91 0h.084v1.25h-.084z"/><path fill="#0000c7" d="M.99 0h.014v1.25h-.014z"/></g><g transform="matrix(113.20 67.40 -1.236 1.704 95.85 205.32)"><path fill="#0000ef" d="M0 0h.044v1.25h-.044z"/><path fill="#0000eb" d="M.04 0h.084v1.25h-.084z"/><path fill="#0000e7" d="M.12 0h.094v1.25h-.094z"/><path fill="#0000e3" d="M.21 0h.084v1.25h-.084z"/><path fill="#0000df" d="M.29 0h.094v1.25h-.094z"/><path fill="#0000db" d="M.38 0h.084v1.25h-.084z"/><path fill="#0000d7" d="M.46 0h.094v1.25h-.094z"/><path fill="#0000d3" d="M.55 0h.084v1.25h-.084z"/><path fill="#0000cf" d="M.63 0h.094v1.25h-.094z"/><path fill="#0000cb" d="M.72 0h.084v1.25h-.084z"/><path fill="#0000c7" d="M.8 0h.094v1.25h-.094z"/><path fill="#0000c3" d="M.89 0h.084v1.25h-.084z"/><path fill="#0000bf" d="M.97 0h.034v1.25h-.034z"/></g><g transform="matrix(113.20 67.40 -1.236 1.702 94.62 207.02)"><path fill="#0000e7" d="M0 0h.024v1.25h-.024z"/><path fill="#0000e3" d="M.02 0h.084v1.25h-.084z"/><path fill="#0000df" d="M.1 0h.094v1.25h-.094z"/><path fill="#0000db" d="M.19 0h.084v1.25h-.084z"/><path fill="#0000d7" d="M.27 0h.094v1.25h-.094z"/><path fill="#0000d3" d="M.36 0h.084v1.25h-.084z"/><path fill="#0000cf" d="M.44 0h.094v1.25h-.094z"/><path fill="#0000cb" d="M.53 0h.084v1.25h-.084z"/><path fill="#0000c7" d="M.61 0h.094v1.25h-.094z"/><path fill="#0000c3" d="M.7 0h.084v1.25h-.084z"/><path fill="#0000bf" d="M.78 0h.094v1.25h-.094z"/><path fill="#00b" d="M.87 0h.084v1.25h-.084z"/><path fill="#0000b7" d="M.95 0h.054v1.25h-.054z"/></g><g transform="matrix(113.20 67.40 -1.236 1.699 93.38 208.73)"><path fill="#0000db" d="M0 0h.084v1.25h-.084z"/><path fill="#0000d7" d="M.08 0h.094v1.25h-.094z"/><path fill="#0000d3" d="M.17 0h.084v1.25h-.084z"/><path fill="#0000cf" d="M.25 0h.094v1.25h-.094z"/><path fill="#0000cb" d="M.34 0h.084v1.25h-.084z"/><path fill="#0000c7" d="M.42 0h.094v1.25h-.094z"/><path fill="#0000c3" d="M.51 0h.084v1.25h-.084z"/><path fill="#0000bf" d="M.59 0h.094v1.25h-.094z"/><path fill="#00b" d="M.68 0h.084v1.25h-.084z"/><path fill="#0000b7" d="M.76 0h.094v1.25h-.094z"/><path fill="#0000b3" d="M.85 0h.084v1.25h-.084z"/><path fill="#0000af" d="M.93 0h.074v1.25h-.074z"/></g><g transform="matrix(113.20 67.40 -1.236 1.697 92.14 210.43)"><path fill="#0000d3" d="M0 0h.064v1.25h-.064z"/><path fill="#0000cf" d="M.06 0h.094v1.25h-.094z"/><path fill="#0000cb" d="M.15 0h.084v1.25h-.084z"/><path fill="#0000c7" d="M.23 0h.094v1.25h-.094z"/><path fill="#0000c3" d="M.32 0h.084v1.25h-.084z"/><path fill="#0000bf" d="M.4 0h.094v1.25h-.094z"/><path fill="#00b" d="M.49 0h.084v1.25h-.084z"/><path fill="#0000b7" d="M.57 0h.094v1.25h-.094z"/><path fill="#0000b3" d="M.66 0h.084v1.25h-.084z"/><path fill="#0000af" d="M.74 0h.094v1.25h-.094z"/><path fill="#0000ab" d="M.83 0h.084v1.25h-.084z"/><path fill="#0000a7" d="M.91 0h.094v1.25h-.094z"/></g><g transform="matrix(113.20 67.40 -1.236 1.695 90.91 212.12)"><path fill="#0000cb" d="M0 0h.044v1.25h-.044z"/><path fill="#0000c7" d="M.04 0h.094v1.25h-.094z"/><path fill="#0000c3" d="M.13 0h.084v1.25h-.084z"/><path fill="#0000bf" d="M.21 0h.094v1.25h-.094z"/><path fill="#00b" d="M.3 0h.084v1.25h-.084z"/><path fill="#0000b7" d="M.38 0h.094v1.25h-.094z"/><path fill="#0000b3" d="M.47 0h.084v1.25h-.084z"/><path fill="#0000af" d="M.55 0h.094v1.25h-.094z"/><path fill="#0000ab" d="M.64 0h.084v1.25h-.084z"/><path fill="#0000a7" d="M.72 0h.094v1.25h-.094z"/><path fill="#0000a3" d="M.81 0h.084v1.25h-.084z"/><path fill="#00009f" d="M.89 0h.094v1.25h-.094z"/><path fill="#00009b" d="M.98 0h.024v1.25h-.024z"/></g><g transform="matrix(113.20 67.40 -1.236 1.692 89.67 213.82)"><path fill="#0000c3" d="M0 0h.024v1.25h-.024z"/><path fill="#0000bf" d="M.02 0h.094v1.25h-.094z"/><path fill="#00b" d="M.11 0h.084v1.25h-.084z"/><path fill="#0000b7" d="M.19 0h.094v1.25h-.094z"/><path fill="#0000b3" d="M.28 0h.084v1.25h-.084z"/><path fill="#0000af" d="M.36 0h.094v1.25h-.094z"/><path fill="#0000ab" d="M.45 0h.084v1.25h-.084z"/><path fill="#0000a7" d="M.53 0h.094v1.25h-.094z"/><path fill="#0000a3" d="M.62 0h.084v1.25h-.084z"/><path fill="#00009f" d="M.7 0h.094v1.25h-.094z"/><path fill="#00009b" d="M.79 0h.084v1.25h-.084z"/><path fill="#000097" d="M.87 0h.094v1.25h-.094z"/><path fill="#000093" d="M.96 0h.044v1.25h-.044z"/></g><g transform="matrix(113.20 67.40 -1.236 1.690 88.44 215.51)"><path fill="#00b" d="M0 0h.014v1.25h-.014z"/><path fill="#0000b7" d="M.01 0h.084v1.25h-.084z"/><path fill="#0000b3" d="M.09 0h.094v1.25h-.094z"/><path fill="#0000af" d="M.18 0h.084v1.25h-.084z"/><path fill="#0000ab" d="M.26 0h.084v1.25h-.084z"/><path fill="#0000a7" d="M.34 0h.094v1.25h-.094z"/><path fill="#0000a3" d="M.43 0h.084v1.25h-.084z"/><path fill="#00009f" d="M.51 0h.094v1.25h-.094z"/><path fill="#00009b" d="M.6 0h.084v1.25h-.084z"/><path fill="#000097" d="M.68 0h.094v1.25h-.094z"/><path fill="#000093" d="M.77 0h.084v1.25h-.084z"/><path fill="#00008f" d="M.85 0h.094v1.25h-.094z"/><path fill="#00008b" d="M.94 0h.064v1.25h-.064z"/></g></g>
<path d="M87.20,92.90 L87.20,250.10 L200.40,311.50 L324.00,255.40 M87.20,250.10 l-3.30,-1.40 M87.20,171.50 l-3.30,-1.40 M87.20,92.90 l-3.30,-1.40 M87.20,250.10 l-3.37,1.53 M143.80,280.80 l-3.37,1.53 M200.40,311.50 l-3.37,1.53 M324.00,255.40 l3.25,1.76 M262.20,283.45 l3.25,1.76 M200.40,311.50 l3.25,1.76" stroke="#3c3c3c" stroke-width="1.1" fill="none"/>
<linearGradient id="gb" gradientUnits="userSpaceOnUse" x1="569.10" y1="248.60" x2="578.96" y2="46.14"><stop offset="0" stop-color="rgb(0,0,143)"/><stop offset="0.125" stop-color="rgb(0,0,255)"/><stop offset="0.375" stop-color="rgb(0,255,255)"/><stop offset="0.625" stop-color="rgb(255,255,0)"/><stop offset="0.875" stop-color="rgb(255,0,0)"/><stop offset="1" stop-color="rgb(128,0,0)"/></linearGradient>
<path d="M555.50,208.70 L446.80,253.20 M616.65,228.30 L507.95,272.80 M555.50,208.70 L677.80,247.90 M501.15,230.95 L623.45,270.15 M446.80,198.63 L555.50,154.13 M555.50,154.13 L677.80,193.33 M446.80,144.07 L555.50,99.57 M555.50,99.57 L677.80,138.77 M446.80,89.50 L555.50,45.00 M555.50,45.00 L677.80,84.20" stroke="#969696" stroke-width="1.2" stroke-linecap="round" stroke-dasharray="0.01 5.49" fill="none"/>
<path d="M555.50,208.70 L555.50,45.00 M501.15,230.95 L501.15,67.25 M616.65,228.30 L616.65,64.60 M677.80,247.90 L677.80,84.20" stroke="#b4b4b4" stroke-width="1.2" stroke-linecap="round" stroke-dasharray="0.01 5.49" fill="none"/>
<path d="M555.50,208.70 L677.80,247.90" stroke="#969696" stroke-width="1.2" stroke-linecap="round" stroke-dasharray="0.01 5.49" stroke-dashoffset="2.6" fill="none"/>
<path d="M555.50,45.00 Q616.65,87.60 677.80,132.20 Q623.45,193.40 569.10,248.60 Q507.95,206.00 446.80,161.40 Q501.15,104.45 555.50,45.00Z" fill="url(#gb)"/>
<path d="M446.80,89.50 L446.80,253.20 L569.10,292.40 L677.80,247.90 M446.80,253.20 l-3.30,-1.40 M446.80,198.63 l-3.30,-1.40 M446.80,144.07 l-3.30,-1.40 M446.80,89.50 l-3.30,-1.40 M446.80,253.20 l-3.42,1.40 M507.95,272.80 l-3.42,1.40 M569.10,292.40 l-3.42,1.40 M677.80,247.90 l3.52,1.13 M623.45,270.15 l3.52,1.13 M569.10,292.40 l3.52,1.13" stroke="#3c3c3c" stroke-width="1.1" fill="none"/>
<g style="will-change:transform" stroke="#1a1a1a" stroke-width="0.3"><text x="62.80" y="25.10" font-size="28.70" text-anchor="start" >(a)</text>
<text x="107.50" y="25.00" font-size="17.00" text-anchor="start" >state transfer</text>
<text x="420.00" y="27.20" font-size="28.70" text-anchor="start" >(b)</text>
<text x="467.60" y="22.90" font-size="17.10" text-anchor="start" >entanglement generation</text>
<path d="M515 0V1237L197 1010V1180L530 1409H696V0Z" transform="translate(70.46,97.00) scale(0.00952,-0.00952)"/>
<text x="80.80" y="176.00" font-size="19.50" text-anchor="end" >0.975</text>
<text x="80.80" y="254.00" font-size="19.50" text-anchor="end" >0.95</text>
<text x="69.50" y="271.70" font-size="19.50" text-anchor="start" >0</text>
<text x="99.30" y="302.00" font-size="19.50" text-anchor="start" >0.05</text>
<text x="167.00" y="333.60" font-size="19.50">0.</text><path d="M515 0V1237L197 1010V1180L530 1409H696V0Z" transform="translate(183.76,333.60) scale(0.00952,-0.00952)"/>
<text x="207.50" y="333.60" font-size="19.50">0.</text><path d="M515 0V1237L197 1010V1180L530 1409H696V0Z" transform="translate(224.26,333.60) scale(0.00952,-0.00952)"/>
<text x="269.00" y="306.00" font-size="19.50" text-anchor="start" >0.05</text>
<text x="331.00" y="276.70" font-size="19.50" text-anchor="start" >0</text>
<text transform="translate(20.8,171.5) rotate(-90)" font-size="24.5" text-anchor="middle">Fidelity</text>
<text x="53.00" y="313.80" font-size="24.5"><tspan font-family="Liberation Serif">κ</tspan>/<tspan font-family="Liberation Serif">Ω</tspan><tspan font-size="19.5" dy="12.5">0</tspan></text>
<text x="313.00" y="317.70" font-size="24.5"><tspan font-family="Liberation Serif">γ</tspan>/<tspan font-family="Liberation Serif">Ω</tspan><tspan font-size="19.5" dy="12.5">0</tspan></text>
<path d="M515 0V1237L197 1010V1180L530 1409H696V0Z" transform="translate(429.36,94.50) scale(0.00952,-0.00952)"/>
<text x="439.70" y="149.00" font-size="19.50" text-anchor="end" >0.995</text>
<text x="439.70" y="203.50" font-size="19.50" text-anchor="end" >0.99</text>
<text x="439.70" y="258.00" font-size="19.50" text-anchor="end" >0.985</text>
<text x="428.50" y="274.70" font-size="19.50" text-anchor="start" >0</text>
<text x="462.40" y="293.70" font-size="19.50" text-anchor="start" >0.05</text>
<text x="535.00" y="313.70" font-size="19.50">0.</text><path d="M515 0V1237L197 1010V1180L530 1409H696V0Z" transform="translate(551.76,313.70) scale(0.00952,-0.00952)"/>
<text x="576.50" y="313.20" font-size="19.50">0.</text><path d="M515 0V1237L197 1010V1180L530 1409H696V0Z" transform="translate(593.26,313.20) scale(0.00952,-0.00952)"/>
<text x="630.10" y="291.70" font-size="19.50" text-anchor="start" >0.05</text>
<text x="685.50" y="268.50" font-size="19.50" text-anchor="start" >0</text>
<text transform="translate(379.6,171) rotate(-90)" font-size="24.5" text-anchor="middle">Fidelity</text>
<text x="428.00" y="318.10" font-size="24.5"><tspan font-family="Liberation Serif">κ</tspan>/<tspan font-family="Liberation Serif">Ω</tspan><tspan font-size="19.5" dy="12.5">0</tspan></text>
<text x="650.80" y="316.30" font-size="24.5"><tspan font-family="Liberation Serif">γ</tspan>/<tspan font-family="Liberation Serif">Ω</tspan><tspan font-size="19.5" dy="12.5">0</tspan></text></g>
</svg>
</body></html>
